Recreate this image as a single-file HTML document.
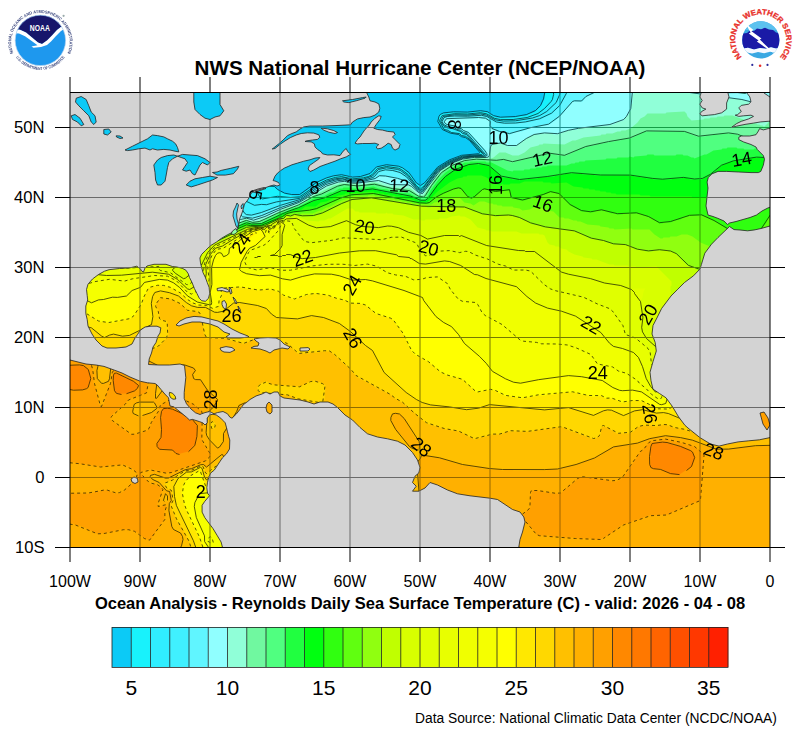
<!DOCTYPE html>
<html><head><meta charset="utf-8"><style>
html,body{margin:0;padding:0;background:#fff;}
body{width:800px;height:737px;position:relative;overflow:hidden;font-family:"Liberation Sans",sans-serif;}
.map{position:absolute;left:0;top:0;}
.title{position:absolute;left:0;width:840px;top:55.5px;text-align:center;font-weight:bold;font-size:20.6px;line-height:24px;white-space:nowrap;}
.sub{position:absolute;left:0;width:840px;top:593px;text-align:center;font-weight:bold;font-size:16.5px;line-height:20px;white-space:nowrap;}
.src{position:absolute;left:415px;top:710px;font-size:13.8px;line-height:18px;white-space:nowrap;}
.yl{position:absolute;left:0;width:44.5px;text-align:right;font-size:16.6px;line-height:18px;}
.xl{position:absolute;top:573px;width:80px;text-align:center;font-size:16px;line-height:18px;}
.cl{position:absolute;top:676.5px;width:60px;text-align:center;font-size:21px;line-height:22px;}
svg text{font-family:"Liberation Sans",sans-serif;}
</style></head><body>
<svg class="map" width="800" height="737" viewBox="0 0 800 737"><defs><clipPath id="mc"><rect x="70" y="92" width="700" height="455"/></clipPath></defs><g clip-path="url(#mc)"><rect x="70" y="92" width="700" height="455" fill="#0ccaf6"/>
<path fill-rule="evenodd" fill="#18f2fc" d="M779.5,82.5L544.5,82.5L544.5,85.5L545.5,86.5L545.5,93.5L544.5,94.5L544.5,98.5L541.5,105.5L535.5,111.5L531.5,113.5L529.5,113.5L526.5,115.5L516.5,116.5L515.5,117.5L496.5,117.5L485.5,111.5L474.5,111.5L473.5,112.5L448.5,112.5L447.5,113.5L442.5,113.5L440.5,114.5L438.5,118.5L438.5,122.5L442.5,127.5L442.5,129.5L447.5,130.5L449.5,132.5L451.5,132.5L452.5,133.5L458.5,133.5L461.5,136.5L464.5,136.5L466.5,138.5L469.5,139.5L480.5,152.5L478.5,154.5L461.5,155.5L455.5,158.5L448.5,160.5L446.5,162.5L437.5,167.5L428.5,177.5L426.5,181.5L420.5,186.5L414.5,181.5L410.5,174.5L403.5,168.5L399.5,166.5L382.5,165.5L381.5,166.5L376.5,167.5L371.5,173.5L364.5,176.5L360.5,176.5L359.5,177.5L350.5,177.5L345.5,175.5L335.5,175.5L334.5,176.5L331.5,176.5L330.5,177.5L325.5,178.5L322.5,180.5L320.5,180.5L316.5,182.5L312.5,186.5L299.5,195.5L291.5,195.5L290.5,194.5L286.5,194.5L279.5,191.5L273.5,186.5L262.5,186.5L259.5,183.5L256.5,176.5L253.5,173.5L243.5,171.5L229.5,164.5L223.5,156.5L222.5,153.5L220.5,151.5L211.5,135.5L196.5,135.5L187.5,123.5L184.5,125.5L178.5,133.5L177.5,136.5L169.5,147.5L168.5,150.5L162.5,158.5L160.5,163.5L150.5,178.5L146.5,176.5L141.5,175.5L138.5,173.5L133.5,172.5L109.5,159.5L107.5,159.5L100.5,155.5L98.5,155.5L89.5,150.5L87.5,150.5L78.5,145.5L76.5,145.5L60.5,137.5L60.5,556.5L779.5,556.5Z"/>
<path fill-rule="evenodd" fill="#30eeff" d="M779.5,82.5L555.5,82.5L555.5,85.5L553.5,87.5L554.5,94.5L553.5,95.5L552.5,100.5L544.5,109.5L537.5,114.5L533.5,115.5L530.5,117.5L521.5,118.5L520.5,119.5L513.5,119.5L512.5,120.5L500.5,120.5L499.5,119.5L495.5,119.5L489.5,115.5L484.5,113.5L473.5,113.5L472.5,114.5L446.5,114.5L445.5,115.5L442.5,115.5L440.5,118.5L440.5,122.5L443.5,126.5L444.5,129.5L447.5,129.5L451.5,132.5L458.5,132.5L460.5,133.5L461.5,135.5L465.5,135.5L469.5,138.5L482.5,152.5L482.5,154.5L481.5,155.5L468.5,155.5L467.5,156.5L461.5,156.5L455.5,159.5L450.5,160.5L448.5,162.5L437.5,168.5L421.5,189.5L419.5,189.5L414.5,184.5L409.5,176.5L402.5,170.5L398.5,168.5L394.5,168.5L393.5,167.5L381.5,167.5L380.5,168.5L377.5,168.5L370.5,176.5L368.5,176.5L364.5,178.5L350.5,179.5L346.5,177.5L335.5,177.5L334.5,178.5L331.5,178.5L330.5,179.5L325.5,180.5L317.5,184.5L300.5,197.5L292.5,197.5L290.5,198.5L289.5,197.5L280.5,197.5L279.5,196.5L276.5,196.5L275.5,197.5L261.5,199.5L255.5,191.5L251.5,190.5L245.5,187.5L243.5,185.5L236.5,182.5L231.5,177.5L228.5,171.5L226.5,169.5L224.5,164.5L222.5,162.5L220.5,157.5L215.5,150.5L213.5,145.5L211.5,143.5L195.5,143.5L193.5,144.5L190.5,142.5L186.5,135.5L183.5,132.5L181.5,132.5L175.5,139.5L169.5,148.5L168.5,151.5L162.5,159.5L155.5,172.5L150.5,178.5L148.5,178.5L145.5,176.5L132.5,172.5L108.5,159.5L106.5,159.5L77.5,145.5L75.5,145.5L60.5,137.5L60.5,556.5L779.5,556.5Z"/>
<path fill-rule="evenodd" fill="#40f0ff" d="M779.5,82.5L557.5,82.5L557.5,84.5L560.5,87.5L560.5,94.5L558.5,97.5L557.5,101.5L546.5,112.5L543.5,113.5L539.5,116.5L537.5,116.5L530.5,119.5L518.5,120.5L517.5,121.5L498.5,121.5L497.5,120.5L494.5,120.5L490.5,117.5L483.5,114.5L474.5,114.5L473.5,115.5L447.5,115.5L446.5,116.5L443.5,116.5L441.5,119.5L441.5,122.5L443.5,125.5L447.5,127.5L454.5,128.5L456.5,130.5L459.5,130.5L461.5,132.5L465.5,133.5L475.5,143.5L475.5,144.5L484.5,153.5L484.5,154.5L483.5,155.5L475.5,155.5L474.5,156.5L465.5,156.5L464.5,157.5L461.5,157.5L448.5,162.5L443.5,166.5L440.5,167.5L433.5,174.5L426.5,185.5L421.5,190.5L419.5,190.5L413.5,184.5L410.5,179.5L401.5,171.5L397.5,169.5L392.5,169.5L391.5,168.5L382.5,168.5L381.5,169.5L378.5,169.5L371.5,177.5L369.5,177.5L365.5,179.5L361.5,179.5L360.5,180.5L350.5,180.5L346.5,178.5L336.5,178.5L335.5,179.5L332.5,179.5L320.5,184.5L308.5,192.5L305.5,195.5L298.5,199.5L287.5,200.5L286.5,201.5L279.5,201.5L278.5,202.5L270.5,203.5L266.5,205.5L263.5,205.5L262.5,204.5L260.5,204.5L259.5,205.5L252.5,205.5L241.5,199.5L234.5,190.5L229.5,180.5L227.5,178.5L226.5,175.5L224.5,173.5L222.5,168.5L220.5,166.5L218.5,161.5L216.5,159.5L211.5,150.5L209.5,151.5L196.5,151.5L195.5,152.5L188.5,152.5L185.5,150.5L179.5,141.5L176.5,141.5L167.5,152.5L166.5,155.5L163.5,158.5L161.5,163.5L157.5,168.5L151.5,178.5L148.5,178.5L145.5,176.5L132.5,172.5L108.5,159.5L106.5,159.5L77.5,145.5L75.5,145.5L68.5,141.5L66.5,141.5L62.5,138.5L60.5,138.5L60.5,556.5L779.5,556.5Z"/>
<path fill-rule="evenodd" fill="#60f5ff" d="M779.5,82.5L568.5,82.5L567.5,92.5L560.5,105.5L552.5,113.5L540.5,119.5L537.5,119.5L532.5,121.5L528.5,121.5L527.5,122.5L519.5,122.5L518.5,123.5L499.5,123.5L498.5,122.5L495.5,122.5L488.5,117.5L483.5,116.5L482.5,115.5L476.5,115.5L475.5,116.5L447.5,116.5L446.5,117.5L444.5,117.5L442.5,120.5L442.5,122.5L445.5,125.5L447.5,126.5L453.5,126.5L457.5,129.5L460.5,129.5L462.5,131.5L466.5,132.5L486.5,154.5L484.5,156.5L471.5,156.5L470.5,157.5L463.5,157.5L448.5,163.5L446.5,165.5L440.5,168.5L435.5,173.5L422.5,191.5L419.5,191.5L411.5,183.5L411.5,182.5L401.5,173.5L397.5,171.5L393.5,171.5L392.5,170.5L381.5,170.5L372.5,178.5L370.5,178.5L366.5,180.5L362.5,180.5L361.5,181.5L350.5,181.5L346.5,179.5L337.5,179.5L336.5,180.5L333.5,180.5L332.5,181.5L327.5,182.5L319.5,186.5L303.5,198.5L299.5,200.5L297.5,200.5L290.5,203.5L283.5,204.5L282.5,205.5L277.5,206.5L274.5,208.5L272.5,208.5L269.5,210.5L267.5,210.5L257.5,214.5L254.5,214.5L253.5,215.5L246.5,215.5L242.5,211.5L234.5,196.5L229.5,189.5L227.5,184.5L225.5,182.5L223.5,177.5L218.5,170.5L216.5,165.5L211.5,158.5L209.5,159.5L202.5,159.5L201.5,160.5L183.5,160.5L179.5,156.5L175.5,150.5L170.5,150.5L160.5,164.5L159.5,167.5L153.5,176.5L150.5,179.5L144.5,176.5L139.5,175.5L136.5,173.5L131.5,172.5L107.5,159.5L105.5,159.5L98.5,155.5L96.5,155.5L87.5,150.5L85.5,150.5L76.5,145.5L74.5,145.5L60.5,138.5L60.5,556.5L779.5,556.5Z"/>
<path fill-rule="evenodd" fill="#90ffff" d="M779.5,82.5L588.5,82.5L589.5,84.5L594.5,84.5L595.5,85.5L597.5,85.5L598.5,86.5L597.5,89.5L592.5,94.5L586.5,96.5L582.5,101.5L573.5,101.5L571.5,102.5L571.5,103.5L564.5,110.5L564.5,111.5L556.5,119.5L549.5,124.5L547.5,124.5L546.5,125.5L541.5,125.5L540.5,126.5L536.5,126.5L535.5,127.5L531.5,127.5L521.5,131.5L517.5,131.5L509.5,134.5L504.5,133.5L503.5,132.5L500.5,132.5L492.5,129.5L489.5,126.5L489.5,120.5L485.5,118.5L481.5,118.5L480.5,117.5L478.5,117.5L477.5,118.5L447.5,118.5L445.5,119.5L444.5,121.5L445.5,123.5L450.5,124.5L451.5,125.5L455.5,125.5L457.5,127.5L462.5,128.5L463.5,130.5L468.5,131.5L486.5,151.5L487.5,155.5L485.5,157.5L468.5,157.5L467.5,158.5L462.5,158.5L456.5,161.5L451.5,162.5L449.5,164.5L440.5,169.5L436.5,173.5L429.5,184.5L422.5,192.5L419.5,192.5L416.5,190.5L414.5,187.5L407.5,181.5L405.5,181.5L401.5,179.5L398.5,179.5L397.5,178.5L388.5,177.5L387.5,176.5L378.5,176.5L374.5,179.5L368.5,180.5L367.5,181.5L363.5,181.5L362.5,182.5L350.5,182.5L346.5,180.5L339.5,180.5L338.5,181.5L334.5,181.5L333.5,182.5L328.5,183.5L322.5,186.5L298.5,202.5L278.5,208.5L269.5,213.5L267.5,213.5L264.5,215.5L262.5,215.5L258.5,217.5L255.5,217.5L254.5,218.5L242.5,217.5L240.5,215.5L212.5,166.5L210.5,166.5L206.5,168.5L178.5,168.5L174.5,164.5L171.5,159.5L165.5,159.5L160.5,165.5L159.5,168.5L156.5,171.5L153.5,177.5L151.5,179.5L149.5,179.5L146.5,177.5L133.5,173.5L109.5,160.5L107.5,160.5L100.5,156.5L98.5,156.5L89.5,151.5L87.5,151.5L78.5,146.5L76.5,146.5L60.5,138.5L60.5,556.5L779.5,556.5Z"/>
<path fill-rule="evenodd" fill="#90ffd8" d="M779.5,110.5L770.5,110.5L768.5,108.5L767.5,105.5L761.5,105.5L760.5,104.5L757.5,104.5L753.5,102.5L750.5,102.5L749.5,101.5L746.5,101.5L741.5,99.5L728.5,98.5L727.5,97.5L720.5,97.5L719.5,96.5L712.5,96.5L711.5,95.5L704.5,95.5L703.5,94.5L696.5,94.5L695.5,93.5L690.5,93.5L687.5,91.5L688.5,90.5L699.5,90.5L700.5,91.5L708.5,91.5L709.5,90.5L712.5,90.5L713.5,91.5L726.5,91.5L727.5,92.5L740.5,92.5L741.5,93.5L745.5,93.5L746.5,92.5L746.5,90.5L745.5,89.5L745.5,83.5L744.5,82.5L645.5,82.5L645.5,85.5L644.5,86.5L643.5,86.5L640.5,82.5L634.5,82.5L633.5,84.5L633.5,94.5L632.5,95.5L632.5,103.5L631.5,104.5L631.5,108.5L628.5,114.5L623.5,120.5L616.5,122.5L613.5,124.5L610.5,124.5L609.5,125.5L578.5,128.5L577.5,129.5L568.5,130.5L557.5,134.5L553.5,134.5L552.5,133.5L540.5,133.5L539.5,134.5L534.5,134.5L526.5,138.5L515.5,146.5L508.5,146.5L502.5,143.5L492.5,144.5L490.5,147.5L490.5,151.5L489.5,152.5L489.5,156.5L488.5,157.5L486.5,157.5L485.5,158.5L484.5,157.5L473.5,157.5L472.5,158.5L465.5,158.5L464.5,159.5L461.5,159.5L458.5,161.5L451.5,163.5L449.5,165.5L440.5,170.5L422.5,194.5L418.5,193.5L409.5,185.5L391.5,185.5L390.5,184.5L384.5,183.5L378.5,180.5L376.5,181.5L369.5,181.5L364.5,183.5L350.5,183.5L349.5,182.5L342.5,181.5L341.5,182.5L336.5,182.5L335.5,183.5L330.5,184.5L315.5,192.5L298.5,203.5L285.5,207.5L269.5,215.5L267.5,215.5L264.5,217.5L262.5,217.5L255.5,220.5L250.5,220.5L247.5,218.5L244.5,218.5L240.5,220.5L236.5,216.5L234.5,211.5L232.5,209.5L230.5,204.5L228.5,202.5L226.5,197.5L224.5,195.5L223.5,192.5L221.5,190.5L219.5,185.5L217.5,183.5L215.5,178.5L212.5,174.5L210.5,174.5L207.5,176.5L181.5,176.5L180.5,177.5L174.5,177.5L170.5,173.5L168.5,169.5L166.5,168.5L160.5,168.5L154.5,175.5L153.5,178.5L152.5,179.5L149.5,179.5L146.5,177.5L133.5,173.5L109.5,160.5L107.5,160.5L100.5,156.5L98.5,156.5L89.5,151.5L87.5,151.5L78.5,146.5L76.5,146.5L60.5,138.5L60.5,556.5L779.5,556.5ZM679.5,90.5L680.5,89.5L684.5,89.5L687.5,91.5L686.5,92.5L682.5,92.5Z"/>
<path fill-rule="evenodd" fill="#70f8a0" d="M779.5,116.5L773.5,116.5L769.5,119.5L768.5,122.5L764.5,126.5L763.5,126.5L762.5,125.5L760.5,125.5L759.5,124.5L757.5,124.5L756.5,123.5L754.5,123.5L732.5,115.5L724.5,115.5L723.5,116.5L717.5,116.5L716.5,117.5L710.5,117.5L709.5,118.5L704.5,118.5L703.5,119.5L691.5,120.5L687.5,116.5L686.5,113.5L684.5,111.5L666.5,112.5L665.5,113.5L647.5,113.5L644.5,116.5L640.5,118.5L637.5,122.5L630.5,128.5L625.5,130.5L621.5,130.5L620.5,131.5L617.5,131.5L612.5,133.5L606.5,133.5L605.5,134.5L601.5,134.5L600.5,135.5L583.5,137.5L575.5,140.5L572.5,140.5L564.5,144.5L543.5,143.5L542.5,144.5L539.5,144.5L538.5,145.5L530.5,147.5L524.5,152.5L518.5,155.5L512.5,155.5L505.5,152.5L499.5,152.5L493.5,157.5L488.5,159.5L486.5,159.5L485.5,158.5L472.5,158.5L471.5,159.5L464.5,159.5L463.5,160.5L458.5,161.5L455.5,163.5L451.5,164.5L442.5,170.5L436.5,176.5L423.5,195.5L419.5,195.5L417.5,194.5L410.5,188.5L390.5,187.5L389.5,186.5L386.5,186.5L375.5,182.5L371.5,182.5L366.5,184.5L349.5,184.5L348.5,183.5L339.5,183.5L338.5,184.5L333.5,185.5L309.5,197.5L304.5,201.5L296.5,205.5L283.5,209.5L263.5,219.5L261.5,219.5L257.5,221.5L250.5,221.5L245.5,219.5L239.5,222.5L236.5,222.5L232.5,215.5L230.5,213.5L228.5,208.5L226.5,206.5L224.5,201.5L219.5,194.5L217.5,189.5L211.5,181.5L207.5,184.5L181.5,184.5L180.5,185.5L169.5,185.5L162.5,177.5L157.5,177.5L156.5,176.5L152.5,180.5L145.5,177.5L140.5,176.5L137.5,174.5L132.5,173.5L108.5,160.5L106.5,160.5L77.5,146.5L75.5,146.5L60.5,138.5L60.5,556.5L779.5,556.5Z"/>
<path fill-rule="evenodd" fill="#50ff80" d="M779.5,139.5L776.5,139.5L774.5,137.5L774.5,135.5L773.5,134.5L769.5,137.5L761.5,137.5L757.5,139.5L749.5,140.5L740.5,135.5L734.5,134.5L733.5,133.5L720.5,133.5L719.5,134.5L713.5,134.5L712.5,135.5L706.5,135.5L705.5,136.5L696.5,136.5L684.5,131.5L644.5,131.5L630.5,138.5L621.5,139.5L620.5,140.5L615.5,140.5L614.5,141.5L609.5,141.5L608.5,142.5L604.5,142.5L603.5,143.5L599.5,143.5L594.5,145.5L586.5,146.5L585.5,147.5L580.5,148.5L566.5,155.5L557.5,155.5L552.5,153.5L548.5,153.5L547.5,154.5L544.5,154.5L543.5,155.5L540.5,155.5L535.5,157.5L531.5,157.5L530.5,158.5L526.5,158.5L525.5,159.5L522.5,159.5L521.5,160.5L514.5,161.5L513.5,162.5L510.5,162.5L504.5,159.5L501.5,159.5L500.5,160.5L485.5,160.5L484.5,159.5L472.5,159.5L471.5,160.5L465.5,160.5L464.5,161.5L459.5,162.5L456.5,164.5L454.5,164.5L444.5,170.5L434.5,181.5L424.5,197.5L419.5,197.5L411.5,191.5L409.5,191.5L408.5,190.5L398.5,190.5L397.5,189.5L392.5,189.5L391.5,188.5L388.5,188.5L387.5,187.5L384.5,187.5L383.5,186.5L380.5,186.5L375.5,184.5L369.5,184.5L364.5,186.5L352.5,186.5L347.5,184.5L339.5,185.5L326.5,192.5L324.5,192.5L319.5,195.5L311.5,197.5L306.5,201.5L294.5,207.5L292.5,207.5L281.5,212.5L279.5,212.5L259.5,222.5L250.5,222.5L246.5,220.5L238.5,224.5L234.5,225.5L231.5,222.5L222.5,205.5L220.5,203.5L219.5,200.5L217.5,198.5L215.5,193.5L212.5,189.5L207.5,192.5L164.5,193.5L158.5,186.5L152.5,186.5L150.5,184.5L150.5,180.5L145.5,177.5L140.5,176.5L137.5,174.5L132.5,173.5L108.5,160.5L106.5,160.5L77.5,146.5L75.5,146.5L68.5,142.5L66.5,142.5L60.5,138.5L60.5,556.5L779.5,556.5Z"/>
<path fill-rule="evenodd" fill="#20ff40" d="M60.5,139.5L60.5,556.5L779.5,556.5L779.5,140.5L777.5,140.5L776.5,141.5L776.5,145.5L774.5,147.5L760.5,147.5L759.5,148.5L754.5,148.5L753.5,149.5L744.5,149.5L743.5,148.5L737.5,148.5L736.5,147.5L727.5,147.5L726.5,148.5L722.5,148.5L721.5,149.5L713.5,150.5L706.5,154.5L704.5,154.5L694.5,158.5L693.5,157.5L691.5,157.5L687.5,155.5L683.5,155.5L682.5,154.5L676.5,154.5L675.5,155.5L654.5,155.5L653.5,154.5L647.5,154.5L646.5,155.5L634.5,156.5L633.5,157.5L629.5,156.5L628.5,157.5L617.5,157.5L616.5,158.5L606.5,158.5L605.5,159.5L585.5,160.5L584.5,161.5L579.5,161.5L578.5,162.5L575.5,162.5L574.5,163.5L571.5,163.5L566.5,165.5L547.5,165.5L546.5,166.5L542.5,166.5L541.5,167.5L536.5,167.5L535.5,168.5L530.5,168.5L529.5,169.5L524.5,169.5L523.5,170.5L513.5,170.5L512.5,171.5L507.5,170.5L491.5,162.5L486.5,162.5L485.5,161.5L470.5,161.5L469.5,162.5L464.5,162.5L461.5,164.5L454.5,166.5L445.5,172.5L438.5,179.5L430.5,190.5L427.5,196.5L424.5,199.5L420.5,199.5L409.5,193.5L397.5,192.5L396.5,191.5L392.5,191.5L387.5,189.5L378.5,188.5L373.5,186.5L365.5,187.5L364.5,188.5L350.5,188.5L349.5,187.5L343.5,187.5L342.5,188.5L339.5,188.5L332.5,192.5L330.5,192.5L323.5,196.5L313.5,198.5L297.5,207.5L295.5,207.5L284.5,212.5L282.5,212.5L260.5,223.5L250.5,223.5L249.5,222.5L244.5,222.5L234.5,227.5L230.5,227.5L224.5,216.5L222.5,214.5L220.5,209.5L218.5,207.5L216.5,202.5L212.5,197.5L208.5,200.5L188.5,200.5L187.5,201.5L165.5,201.5L164.5,202.5L160.5,202.5L154.5,195.5L148.5,195.5L144.5,193.5L147.5,187.5L147.5,185.5L150.5,181.5L149.5,179.5L142.5,177.5L139.5,175.5L134.5,174.5L110.5,161.5L108.5,161.5L79.5,147.5L77.5,147.5L70.5,143.5L68.5,143.5L62.5,139.5Z"/>
<path fill-rule="evenodd" fill="#00ff10" d="M60.5,139.5L60.5,556.5L779.5,556.5L779.5,158.5L752.5,157.5L751.5,158.5L746.5,158.5L745.5,159.5L731.5,161.5L721.5,165.5L712.5,173.5L701.5,179.5L690.5,179.5L685.5,177.5L682.5,177.5L681.5,178.5L672.5,178.5L671.5,179.5L653.5,179.5L652.5,178.5L646.5,178.5L645.5,177.5L640.5,177.5L639.5,176.5L634.5,176.5L633.5,175.5L594.5,175.5L593.5,174.5L582.5,174.5L581.5,173.5L565.5,173.5L564.5,174.5L560.5,174.5L559.5,175.5L555.5,175.5L554.5,176.5L538.5,177.5L537.5,178.5L528.5,178.5L527.5,179.5L521.5,179.5L519.5,180.5L518.5,179.5L512.5,179.5L511.5,178.5L502.5,177.5L488.5,165.5L485.5,165.5L484.5,164.5L469.5,164.5L468.5,165.5L465.5,165.5L459.5,168.5L457.5,168.5L445.5,176.5L436.5,186.5L430.5,194.5L429.5,197.5L426.5,200.5L418.5,200.5L411.5,196.5L402.5,195.5L401.5,194.5L397.5,194.5L396.5,193.5L392.5,193.5L391.5,192.5L386.5,192.5L385.5,191.5L381.5,191.5L380.5,190.5L376.5,190.5L375.5,189.5L366.5,189.5L365.5,190.5L344.5,190.5L343.5,191.5L339.5,191.5L325.5,198.5L318.5,199.5L317.5,200.5L314.5,200.5L311.5,202.5L309.5,202.5L298.5,208.5L285.5,212.5L266.5,222.5L264.5,222.5L260.5,224.5L250.5,224.5L249.5,223.5L245.5,223.5L235.5,228.5L228.5,230.5L226.5,228.5L225.5,225.5L223.5,223.5L218.5,213.5L212.5,204.5L208.5,208.5L194.5,208.5L193.5,209.5L165.5,209.5L164.5,210.5L155.5,210.5L152.5,206.5L149.5,204.5L143.5,204.5L142.5,203.5L140.5,203.5L139.5,202.5L139.5,200.5L147.5,184.5L149.5,182.5L149.5,180.5L144.5,177.5L139.5,176.5L136.5,174.5L131.5,173.5L107.5,160.5L105.5,160.5L98.5,156.5L96.5,156.5L87.5,151.5L85.5,151.5L76.5,146.5L74.5,146.5Z"/>
<path fill-rule="evenodd" fill="#30ff10" d="M60.5,139.5L60.5,556.5L779.5,556.5L779.5,181.5L778.5,181.5L770.5,195.5L766.5,199.5L760.5,199.5L750.5,193.5L746.5,193.5L745.5,194.5L741.5,194.5L739.5,195.5L731.5,206.5L727.5,206.5L714.5,199.5L709.5,199.5L706.5,197.5L692.5,197.5L691.5,196.5L650.5,196.5L649.5,195.5L640.5,195.5L639.5,194.5L616.5,194.5L615.5,193.5L611.5,193.5L610.5,192.5L606.5,192.5L605.5,191.5L600.5,191.5L599.5,190.5L595.5,190.5L594.5,189.5L589.5,189.5L588.5,188.5L583.5,188.5L582.5,187.5L573.5,186.5L566.5,182.5L551.5,183.5L550.5,182.5L543.5,182.5L542.5,181.5L524.5,181.5L519.5,183.5L510.5,183.5L509.5,184.5L503.5,184.5L502.5,183.5L501.5,184.5L497.5,184.5L496.5,183.5L494.5,183.5L486.5,177.5L481.5,175.5L467.5,175.5L466.5,176.5L463.5,176.5L462.5,177.5L457.5,178.5L449.5,182.5L437.5,191.5L431.5,197.5L431.5,198.5L426.5,202.5L419.5,202.5L409.5,198.5L405.5,198.5L404.5,197.5L400.5,197.5L399.5,196.5L395.5,196.5L394.5,195.5L390.5,195.5L389.5,194.5L384.5,194.5L383.5,193.5L379.5,193.5L378.5,192.5L374.5,192.5L373.5,191.5L345.5,193.5L344.5,194.5L338.5,195.5L326.5,201.5L320.5,202.5L315.5,206.5L305.5,206.5L301.5,209.5L290.5,211.5L264.5,224.5L262.5,224.5L261.5,225.5L250.5,225.5L249.5,224.5L245.5,224.5L226.5,233.5L223.5,230.5L216.5,217.5L212.5,212.5L208.5,216.5L200.5,216.5L199.5,217.5L166.5,217.5L165.5,218.5L150.5,218.5L147.5,214.5L145.5,213.5L138.5,213.5L137.5,212.5L134.5,212.5L133.5,210.5L141.5,194.5L143.5,192.5L146.5,185.5L149.5,181.5L148.5,179.5L141.5,177.5L138.5,175.5L133.5,174.5L109.5,161.5L107.5,161.5L100.5,157.5L98.5,157.5L89.5,152.5L87.5,152.5L78.5,147.5L76.5,147.5Z"/>
<path fill-rule="evenodd" fill="#60ff10" d="M60.5,139.5L60.5,556.5L779.5,556.5L779.5,201.5L767.5,219.5L766.5,222.5L759.5,231.5L756.5,232.5L752.5,235.5L739.5,235.5L736.5,233.5L732.5,232.5L715.5,221.5L702.5,215.5L689.5,215.5L688.5,216.5L683.5,217.5L680.5,219.5L674.5,220.5L670.5,222.5L663.5,222.5L662.5,223.5L659.5,223.5L650.5,217.5L648.5,217.5L645.5,215.5L643.5,215.5L639.5,213.5L623.5,213.5L622.5,214.5L616.5,214.5L615.5,213.5L611.5,213.5L603.5,210.5L597.5,210.5L592.5,212.5L581.5,211.5L570.5,205.5L558.5,193.5L556.5,193.5L555.5,192.5L549.5,192.5L539.5,196.5L532.5,197.5L524.5,200.5L520.5,200.5L515.5,198.5L511.5,198.5L510.5,197.5L509.5,190.5L491.5,191.5L486.5,189.5L482.5,189.5L475.5,196.5L472.5,198.5L469.5,198.5L460.5,188.5L455.5,188.5L437.5,196.5L428.5,203.5L418.5,203.5L417.5,202.5L414.5,202.5L409.5,200.5L399.5,199.5L398.5,198.5L394.5,198.5L393.5,197.5L389.5,197.5L388.5,196.5L384.5,196.5L383.5,195.5L379.5,195.5L378.5,194.5L373.5,194.5L372.5,193.5L370.5,193.5L369.5,194.5L354.5,194.5L353.5,195.5L345.5,196.5L334.5,201.5L332.5,201.5L325.5,205.5L323.5,205.5L316.5,209.5L287.5,213.5L282.5,217.5L279.5,217.5L266.5,224.5L264.5,224.5L263.5,225.5L252.5,225.5L251.5,226.5L249.5,225.5L245.5,225.5L243.5,227.5L239.5,228.5L236.5,230.5L234.5,230.5L225.5,235.5L222.5,235.5L213.5,220.5L211.5,220.5L208.5,224.5L206.5,224.5L205.5,225.5L166.5,225.5L165.5,226.5L150.5,226.5L149.5,227.5L145.5,226.5L141.5,222.5L133.5,222.5L132.5,221.5L129.5,221.5L128.5,220.5L128.5,218.5L140.5,195.5L148.5,182.5L148.5,180.5L143.5,177.5L130.5,173.5L106.5,160.5L104.5,160.5L75.5,146.5L73.5,146.5Z"/>
<path fill-rule="evenodd" fill="#90ff10" d="M60.5,139.5L60.5,556.5L779.5,556.5L779.5,222.5L778.5,222.5L776.5,225.5L775.5,228.5L773.5,230.5L772.5,233.5L768.5,238.5L765.5,244.5L757.5,251.5L753.5,253.5L722.5,253.5L714.5,249.5L712.5,247.5L700.5,242.5L692.5,236.5L687.5,234.5L681.5,234.5L676.5,236.5L670.5,236.5L669.5,237.5L663.5,237.5L662.5,238.5L660.5,238.5L654.5,234.5L649.5,229.5L632.5,229.5L631.5,228.5L614.5,229.5L613.5,228.5L609.5,228.5L608.5,227.5L600.5,226.5L599.5,225.5L587.5,224.5L580.5,221.5L577.5,221.5L576.5,220.5L573.5,220.5L568.5,218.5L564.5,218.5L563.5,217.5L559.5,217.5L553.5,211.5L546.5,210.5L539.5,207.5L533.5,207.5L529.5,209.5L522.5,210.5L519.5,208.5L513.5,207.5L512.5,206.5L502.5,206.5L501.5,205.5L497.5,205.5L496.5,204.5L493.5,204.5L492.5,203.5L489.5,203.5L484.5,201.5L479.5,201.5L473.5,205.5L470.5,203.5L464.5,202.5L459.5,197.5L451.5,198.5L450.5,199.5L446.5,199.5L445.5,200.5L441.5,200.5L440.5,201.5L434.5,202.5L431.5,204.5L417.5,204.5L416.5,203.5L412.5,203.5L411.5,202.5L407.5,202.5L406.5,201.5L402.5,201.5L401.5,200.5L395.5,200.5L394.5,199.5L390.5,199.5L389.5,198.5L385.5,198.5L384.5,197.5L380.5,197.5L379.5,196.5L375.5,196.5L374.5,195.5L368.5,195.5L367.5,196.5L353.5,196.5L352.5,197.5L341.5,200.5L328.5,207.5L326.5,207.5L321.5,210.5L319.5,210.5L312.5,213.5L301.5,213.5L300.5,214.5L298.5,214.5L297.5,213.5L292.5,213.5L291.5,214.5L286.5,214.5L282.5,218.5L278.5,218.5L276.5,220.5L265.5,225.5L263.5,225.5L262.5,226.5L246.5,226.5L239.5,230.5L237.5,230.5L232.5,233.5L230.5,233.5L228.5,235.5L221.5,238.5L217.5,235.5L215.5,230.5L213.5,228.5L211.5,228.5L210.5,230.5L206.5,233.5L168.5,233.5L167.5,234.5L150.5,234.5L149.5,235.5L141.5,235.5L136.5,231.5L128.5,231.5L127.5,230.5L124.5,230.5L123.5,229.5L123.5,226.5L131.5,210.5L137.5,201.5L140.5,194.5L148.5,182.5L148.5,180.5L145.5,178.5L132.5,174.5L108.5,161.5L106.5,161.5L77.5,147.5L75.5,147.5Z"/>
<path fill-rule="evenodd" fill="#c0ff00" d="M60.5,139.5L60.5,556.5L779.5,556.5L779.5,242.5L767.5,260.5L766.5,263.5L763.5,266.5L756.5,270.5L699.5,270.5L687.5,265.5L679.5,257.5L679.5,256.5L678.5,256.5L674.5,252.5L672.5,252.5L671.5,251.5L668.5,251.5L667.5,250.5L653.5,250.5L652.5,251.5L645.5,251.5L644.5,250.5L635.5,249.5L628.5,245.5L625.5,245.5L624.5,244.5L612.5,244.5L611.5,243.5L606.5,242.5L603.5,240.5L598.5,240.5L597.5,239.5L589.5,238.5L578.5,232.5L576.5,232.5L572.5,230.5L558.5,229.5L557.5,228.5L551.5,228.5L550.5,227.5L543.5,227.5L539.5,225.5L532.5,224.5L525.5,220.5L523.5,220.5L521.5,218.5L519.5,218.5L515.5,216.5L512.5,216.5L511.5,215.5L499.5,215.5L498.5,216.5L494.5,216.5L493.5,215.5L481.5,214.5L478.5,212.5L473.5,211.5L466.5,207.5L459.5,207.5L458.5,206.5L456.5,207.5L439.5,207.5L438.5,206.5L431.5,206.5L430.5,207.5L427.5,207.5L426.5,206.5L411.5,205.5L410.5,204.5L406.5,204.5L405.5,203.5L401.5,203.5L400.5,202.5L387.5,201.5L386.5,200.5L382.5,200.5L381.5,199.5L377.5,199.5L376.5,198.5L363.5,198.5L362.5,199.5L352.5,199.5L351.5,200.5L349.5,200.5L325.5,212.5L323.5,212.5L320.5,214.5L317.5,214.5L313.5,216.5L299.5,216.5L294.5,214.5L291.5,216.5L286.5,215.5L284.5,218.5L282.5,219.5L280.5,218.5L264.5,226.5L246.5,227.5L244.5,229.5L240.5,231.5L238.5,231.5L235.5,233.5L233.5,233.5L220.5,240.5L217.5,240.5L214.5,236.5L212.5,235.5L209.5,239.5L206.5,241.5L174.5,241.5L173.5,242.5L150.5,242.5L149.5,243.5L136.5,243.5L132.5,240.5L118.5,239.5L117.5,238.5L117.5,236.5L126.5,218.5L128.5,216.5L131.5,209.5L136.5,202.5L139.5,195.5L141.5,193.5L148.5,180.5L142.5,177.5L132.5,174.5L110.5,162.5L108.5,162.5L79.5,148.5L77.5,148.5L68.5,143.5L66.5,143.5Z"/>
<path fill-rule="evenodd" fill="#d8ff00" d="M60.5,140.5L60.5,556.5L779.5,556.5L779.5,263.5L778.5,263.5L776.5,266.5L775.5,269.5L773.5,271.5L768.5,280.5L760.5,287.5L758.5,287.5L757.5,288.5L709.5,288.5L688.5,304.5L680.5,309.5L670.5,300.5L670.5,286.5L671.5,285.5L671.5,281.5L656.5,266.5L636.5,267.5L635.5,266.5L628.5,266.5L627.5,265.5L614.5,265.5L613.5,264.5L609.5,264.5L596.5,259.5L592.5,259.5L591.5,258.5L583.5,257.5L582.5,256.5L574.5,254.5L568.5,251.5L566.5,249.5L561.5,248.5L558.5,246.5L555.5,246.5L554.5,245.5L549.5,244.5L547.5,242.5L544.5,235.5L542.5,234.5L539.5,234.5L538.5,233.5L521.5,233.5L516.5,231.5L491.5,231.5L490.5,230.5L486.5,230.5L485.5,229.5L477.5,227.5L470.5,219.5L464.5,216.5L460.5,216.5L459.5,215.5L451.5,216.5L446.5,218.5L439.5,218.5L438.5,219.5L425.5,219.5L424.5,220.5L421.5,220.5L420.5,219.5L413.5,219.5L403.5,215.5L393.5,214.5L392.5,213.5L387.5,213.5L386.5,212.5L385.5,213.5L376.5,213.5L375.5,212.5L359.5,212.5L358.5,211.5L355.5,211.5L352.5,208.5L347.5,208.5L330.5,218.5L328.5,218.5L324.5,220.5L319.5,220.5L318.5,221.5L307.5,220.5L296.5,216.5L294.5,216.5L290.5,218.5L286.5,216.5L283.5,220.5L279.5,219.5L263.5,227.5L253.5,227.5L252.5,228.5L247.5,228.5L238.5,233.5L231.5,235.5L219.5,242.5L212.5,243.5L206.5,249.5L150.5,250.5L149.5,251.5L135.5,251.5L133.5,252.5L127.5,249.5L113.5,248.5L112.5,247.5L112.5,244.5L127.5,215.5L129.5,213.5L131.5,208.5L139.5,196.5L142.5,189.5L147.5,182.5L147.5,180.5L144.5,178.5L131.5,174.5L107.5,161.5L105.5,161.5L98.5,157.5L96.5,157.5L87.5,152.5L85.5,152.5L76.5,147.5L74.5,147.5L64.5,142.5L62.5,140.5Z"/>
<path fill-rule="evenodd" fill="#e0ff00" d="M60.5,140.5L60.5,556.5L779.5,556.5L779.5,283.5L777.5,285.5L776.5,288.5L772.5,293.5L769.5,299.5L761.5,305.5L715.5,305.5L699.5,317.5L695.5,319.5L664.5,343.5L658.5,347.5L656.5,347.5L645.5,338.5L641.5,331.5L642.5,314.5L641.5,313.5L641.5,308.5L640.5,307.5L640.5,301.5L642.5,297.5L643.5,291.5L645.5,288.5L633.5,288.5L632.5,289.5L628.5,289.5L620.5,285.5L614.5,285.5L613.5,284.5L602.5,283.5L601.5,282.5L596.5,281.5L593.5,279.5L590.5,279.5L585.5,277.5L581.5,277.5L580.5,276.5L576.5,276.5L575.5,275.5L566.5,274.5L565.5,273.5L560.5,272.5L557.5,270.5L550.5,263.5L543.5,259.5L535.5,252.5L533.5,252.5L531.5,248.5L524.5,251.5L519.5,251.5L518.5,250.5L514.5,250.5L513.5,249.5L509.5,249.5L508.5,248.5L500.5,248.5L499.5,247.5L487.5,246.5L486.5,245.5L481.5,244.5L478.5,242.5L476.5,242.5L464.5,236.5L461.5,236.5L457.5,232.5L447.5,236.5L440.5,236.5L439.5,237.5L434.5,237.5L433.5,238.5L429.5,238.5L427.5,239.5L420.5,235.5L414.5,234.5L413.5,233.5L409.5,233.5L404.5,231.5L400.5,228.5L393.5,227.5L392.5,226.5L385.5,226.5L384.5,227.5L380.5,227.5L379.5,228.5L376.5,228.5L375.5,227.5L362.5,227.5L361.5,226.5L355.5,225.5L348.5,221.5L344.5,221.5L341.5,223.5L336.5,224.5L330.5,227.5L315.5,228.5L305.5,224.5L296.5,218.5L294.5,218.5L293.5,219.5L285.5,219.5L283.5,221.5L278.5,220.5L273.5,223.5L271.5,226.5L256.5,227.5L251.5,229.5L247.5,229.5L239.5,234.5L232.5,236.5L214.5,245.5L208.5,251.5L203.5,261.5L203.5,263.5L199.5,267.5L183.5,279.5L172.5,271.5L172.5,268.5L179.5,263.5L184.5,258.5L151.5,258.5L150.5,259.5L135.5,259.5L134.5,260.5L127.5,260.5L122.5,258.5L114.5,258.5L113.5,257.5L107.5,257.5L106.5,256.5L106.5,253.5L112.5,241.5L114.5,239.5L114.5,237.5L116.5,235.5L118.5,230.5L123.5,223.5L124.5,219.5L132.5,207.5L134.5,202.5L139.5,195.5L147.5,180.5L143.5,178.5L138.5,177.5L135.5,175.5L130.5,174.5L106.5,161.5L104.5,161.5L75.5,147.5L73.5,147.5Z"/>
<path fill-rule="evenodd" fill="#e8ff00" d="M60.5,140.5L60.5,556.5L779.5,556.5L779.5,304.5L778.5,304.5L772.5,315.5L764.5,322.5L753.5,322.5L752.5,323.5L719.5,323.5L669.5,360.5L660.5,360.5L659.5,361.5L658.5,366.5L655.5,370.5L652.5,367.5L650.5,363.5L650.5,359.5L649.5,358.5L650.5,354.5L648.5,349.5L637.5,339.5L633.5,337.5L627.5,336.5L624.5,334.5L622.5,325.5L610.5,309.5L606.5,307.5L601.5,306.5L598.5,304.5L596.5,304.5L594.5,302.5L580.5,296.5L577.5,296.5L576.5,295.5L573.5,295.5L572.5,294.5L569.5,294.5L564.5,292.5L559.5,292.5L558.5,291.5L552.5,290.5L546.5,287.5L530.5,271.5L528.5,270.5L512.5,270.5L506.5,266.5L499.5,265.5L488.5,259.5L476.5,256.5L468.5,251.5L465.5,251.5L460.5,253.5L457.5,253.5L452.5,251.5L438.5,251.5L428.5,256.5L425.5,256.5L419.5,251.5L417.5,245.5L413.5,241.5L405.5,239.5L402.5,237.5L390.5,237.5L383.5,240.5L379.5,240.5L378.5,239.5L340.5,238.5L339.5,239.5L331.5,240.5L330.5,241.5L322.5,241.5L321.5,242.5L310.5,243.5L309.5,242.5L305.5,242.5L299.5,236.5L293.5,228.5L291.5,221.5L285.5,221.5L284.5,222.5L282.5,222.5L279.5,220.5L277.5,223.5L271.5,228.5L268.5,226.5L266.5,226.5L264.5,228.5L254.5,228.5L250.5,230.5L247.5,230.5L242.5,234.5L235.5,236.5L227.5,240.5L225.5,242.5L215.5,246.5L210.5,251.5L207.5,256.5L207.5,258.5L204.5,264.5L204.5,269.5L203.5,271.5L190.5,284.5L188.5,285.5L185.5,284.5L169.5,272.5L164.5,272.5L159.5,270.5L158.5,269.5L159.5,268.5L158.5,266.5L151.5,266.5L150.5,267.5L135.5,267.5L134.5,268.5L118.5,268.5L117.5,267.5L102.5,266.5L101.5,265.5L101.5,262.5L105.5,251.5L107.5,249.5L110.5,242.5L112.5,240.5L114.5,235.5L119.5,228.5L123.5,219.5L125.5,217.5L126.5,214.5L134.5,202.5L136.5,197.5L144.5,185.5L146.5,180.5L139.5,178.5L136.5,176.5L131.5,175.5L107.5,162.5L105.5,162.5L76.5,148.5L74.5,148.5Z"/>
<path fill-rule="evenodd" fill="#f0ff00" d="M60.5,141.5L60.5,556.5L779.5,556.5L779.5,324.5L777.5,326.5L772.5,335.5L769.5,338.5L765.5,340.5L725.5,340.5L721.5,342.5L683.5,371.5L679.5,373.5L675.5,373.5L674.5,372.5L663.5,372.5L661.5,375.5L661.5,378.5L660.5,379.5L658.5,389.5L657.5,391.5L655.5,392.5L648.5,384.5L644.5,376.5L643.5,370.5L640.5,364.5L639.5,359.5L633.5,352.5L628.5,351.5L625.5,349.5L614.5,347.5L606.5,340.5L600.5,332.5L579.5,318.5L571.5,314.5L569.5,314.5L562.5,311.5L559.5,311.5L558.5,310.5L549.5,309.5L536.5,304.5L529.5,299.5L515.5,286.5L508.5,285.5L507.5,284.5L504.5,284.5L499.5,282.5L496.5,282.5L492.5,280.5L486.5,279.5L478.5,275.5L474.5,275.5L471.5,272.5L466.5,270.5L460.5,265.5L458.5,265.5L455.5,263.5L453.5,263.5L449.5,261.5L440.5,261.5L439.5,262.5L434.5,262.5L433.5,263.5L429.5,263.5L428.5,264.5L419.5,264.5L414.5,260.5L410.5,259.5L408.5,257.5L408.5,255.5L404.5,252.5L394.5,255.5L393.5,254.5L389.5,254.5L388.5,253.5L383.5,253.5L379.5,251.5L354.5,251.5L353.5,252.5L344.5,252.5L343.5,253.5L330.5,254.5L329.5,255.5L320.5,256.5L315.5,258.5L304.5,258.5L303.5,259.5L300.5,259.5L294.5,256.5L289.5,255.5L282.5,247.5L281.5,245.5L281.5,232.5L284.5,225.5L280.5,221.5L279.5,221.5L278.5,223.5L271.5,229.5L268.5,227.5L266.5,227.5L264.5,230.5L262.5,228.5L256.5,228.5L250.5,231.5L248.5,231.5L238.5,237.5L236.5,237.5L234.5,239.5L231.5,240.5L226.5,244.5L220.5,247.5L216.5,247.5L210.5,254.5L209.5,258.5L205.5,265.5L206.5,267.5L206.5,277.5L200.5,283.5L189.5,290.5L187.5,289.5L177.5,279.5L169.5,274.5L163.5,274.5L162.5,273.5L150.5,272.5L149.5,273.5L126.5,274.5L125.5,275.5L97.5,275.5L95.5,273.5L95.5,271.5L101.5,260.5L101.5,256.5L96.5,249.5L96.5,247.5L95.5,246.5L95.5,243.5L94.5,242.5L93.5,236.5L91.5,232.5L91.5,229.5L88.5,222.5L88.5,219.5L86.5,215.5L86.5,212.5L85.5,211.5L84.5,205.5L82.5,201.5L82.5,198.5L79.5,191.5L79.5,188.5L77.5,184.5L77.5,181.5L75.5,177.5L75.5,174.5L74.5,173.5L73.5,167.5L70.5,160.5L70.5,157.5L68.5,153.5L67.5,147.5L63.5,142.5Z"/>
<path fill-rule="evenodd" fill="#f5ff00" d="M98.5,254.5L96.5,254.5L96.5,263.5L97.5,264.5L99.5,262.5L99.5,260.5L100.5,259.5ZM60.5,277.5L60.5,556.5L779.5,556.5L779.5,345.5L778.5,345.5L775.5,351.5L769.5,357.5L740.5,357.5L739.5,358.5L729.5,358.5L692.5,385.5L685.5,385.5L684.5,384.5L669.5,384.5L668.5,383.5L666.5,383.5L663.5,390.5L662.5,397.5L660.5,399.5L657.5,399.5L635.5,379.5L632.5,378.5L624.5,372.5L619.5,372.5L613.5,367.5L611.5,367.5L610.5,366.5L599.5,365.5L594.5,361.5L592.5,356.5L590.5,354.5L583.5,352.5L574.5,347.5L571.5,347.5L568.5,345.5L560.5,345.5L559.5,344.5L540.5,344.5L536.5,342.5L527.5,342.5L526.5,341.5L521.5,341.5L519.5,340.5L504.5,326.5L498.5,322.5L485.5,316.5L480.5,311.5L477.5,304.5L475.5,302.5L468.5,302.5L467.5,301.5L461.5,301.5L459.5,300.5L449.5,289.5L448.5,285.5L444.5,281.5L438.5,277.5L430.5,277.5L429.5,278.5L424.5,278.5L419.5,280.5L413.5,280.5L405.5,276.5L400.5,276.5L399.5,275.5L394.5,275.5L393.5,274.5L387.5,273.5L378.5,267.5L370.5,264.5L361.5,264.5L360.5,265.5L356.5,265.5L355.5,266.5L353.5,265.5L345.5,265.5L344.5,264.5L326.5,264.5L325.5,265.5L316.5,265.5L315.5,266.5L302.5,267.5L301.5,268.5L297.5,268.5L292.5,270.5L286.5,270.5L285.5,271.5L282.5,271.5L281.5,270.5L278.5,270.5L273.5,268.5L265.5,268.5L260.5,270.5L254.5,270.5L253.5,269.5L248.5,268.5L245.5,265.5L243.5,261.5L244.5,260.5L244.5,258.5L246.5,256.5L247.5,252.5L252.5,248.5L255.5,248.5L260.5,245.5L262.5,245.5L266.5,243.5L277.5,231.5L278.5,228.5L280.5,226.5L280.5,223.5L279.5,223.5L272.5,230.5L270.5,230.5L267.5,228.5L265.5,232.5L264.5,232.5L262.5,229.5L255.5,229.5L250.5,232.5L246.5,233.5L243.5,236.5L238.5,238.5L235.5,241.5L229.5,244.5L222.5,249.5L216.5,249.5L212.5,254.5L210.5,261.5L208.5,263.5L208.5,265.5L207.5,266.5L208.5,267.5L208.5,271.5L209.5,272.5L209.5,282.5L204.5,287.5L194.5,292.5L192.5,294.5L189.5,294.5L179.5,283.5L172.5,278.5L168.5,276.5L162.5,276.5L161.5,275.5L154.5,275.5L153.5,276.5L149.5,276.5L148.5,277.5L144.5,277.5L143.5,278.5L135.5,278.5L134.5,279.5L130.5,279.5L126.5,281.5L120.5,281.5L119.5,280.5L115.5,280.5L114.5,279.5L108.5,279.5L107.5,280.5L101.5,280.5L100.5,281.5L91.5,282.5L89.5,284.5L81.5,284.5L80.5,283.5L77.5,283.5L71.5,280.5ZM209.5,536.5L213.5,539.5L213.5,542.5L212.5,543.5L210.5,543.5L207.5,541.5L207.5,538.5Z"/>
<path fill-rule="evenodd" fill="#ffff00" d="M268.5,231.5L268.5,232.5L269.5,232.5L269.5,231.5ZM60.5,318.5L60.5,556.5L207.5,556.5L209.5,553.5L209.5,549.5L204.5,543.5L204.5,541.5L203.5,540.5L204.5,536.5L196.5,520.5L195.5,514.5L194.5,513.5L194.5,509.5L193.5,508.5L194.5,501.5L197.5,495.5L200.5,492.5L208.5,492.5L210.5,495.5L210.5,500.5L211.5,501.5L211.5,506.5L212.5,507.5L212.5,512.5L213.5,513.5L213.5,518.5L215.5,521.5L219.5,521.5L220.5,520.5L229.5,519.5L234.5,517.5L248.5,515.5L251.5,519.5L252.5,524.5L255.5,530.5L255.5,534.5L256.5,535.5L256.5,544.5L258.5,548.5L265.5,551.5L271.5,551.5L272.5,552.5L332.5,552.5L334.5,556.5L779.5,556.5L779.5,365.5L777.5,367.5L776.5,370.5L770.5,375.5L735.5,375.5L731.5,377.5L728.5,380.5L724.5,382.5L704.5,397.5L677.5,396.5L676.5,395.5L670.5,395.5L669.5,394.5L668.5,395.5L666.5,403.5L662.5,405.5L658.5,404.5L642.5,392.5L635.5,391.5L634.5,390.5L620.5,391.5L611.5,387.5L604.5,381.5L602.5,381.5L598.5,379.5L586.5,378.5L585.5,377.5L580.5,377.5L579.5,376.5L562.5,376.5L561.5,377.5L556.5,377.5L555.5,378.5L548.5,378.5L547.5,379.5L534.5,380.5L533.5,381.5L529.5,381.5L528.5,382.5L524.5,382.5L523.5,383.5L515.5,383.5L503.5,378.5L498.5,374.5L494.5,373.5L478.5,355.5L468.5,348.5L463.5,343.5L457.5,333.5L449.5,325.5L442.5,322.5L432.5,313.5L422.5,299.5L422.5,297.5L419.5,297.5L409.5,292.5L407.5,292.5L400.5,289.5L397.5,289.5L393.5,287.5L386.5,286.5L385.5,285.5L377.5,283.5L374.5,281.5L366.5,280.5L365.5,279.5L364.5,280.5L349.5,280.5L341.5,276.5L338.5,276.5L333.5,274.5L311.5,274.5L306.5,276.5L302.5,276.5L301.5,277.5L296.5,278.5L293.5,280.5L286.5,280.5L285.5,279.5L278.5,278.5L272.5,275.5L258.5,276.5L253.5,274.5L246.5,274.5L245.5,273.5L243.5,273.5L239.5,270.5L240.5,261.5L245.5,254.5L245.5,252.5L250.5,246.5L252.5,246.5L256.5,244.5L264.5,236.5L262.5,231.5L260.5,229.5L255.5,230.5L247.5,234.5L237.5,243.5L229.5,248.5L229.5,253.5L226.5,256.5L223.5,257.5L221.5,255.5L221.5,253.5L217.5,253.5L215.5,255.5L212.5,263.5L212.5,272.5L211.5,273.5L211.5,277.5L212.5,278.5L212.5,286.5L210.5,291.5L212.5,303.5L210.5,305.5L208.5,304.5L204.5,304.5L203.5,303.5L198.5,303.5L188.5,297.5L182.5,291.5L182.5,290.5L174.5,283.5L168.5,280.5L159.5,279.5L158.5,280.5L153.5,280.5L152.5,281.5L144.5,282.5L139.5,288.5L132.5,290.5L127.5,296.5L122.5,296.5L121.5,297.5L111.5,297.5L110.5,298.5L107.5,298.5L102.5,300.5L96.5,300.5L92.5,303.5L90.5,303.5L88.5,301.5L84.5,300.5L82.5,303.5L82.5,305.5L78.5,309.5Z"/>
<path fill-rule="evenodd" fill="#ffe800" d="M60.5,326.5L60.5,556.5L203.5,556.5L202.5,554.5L203.5,553.5L203.5,548.5L202.5,547.5L201.5,542.5L187.5,514.5L187.5,512.5L185.5,509.5L185.5,507.5L183.5,503.5L183.5,499.5L182.5,498.5L182.5,494.5L181.5,493.5L182.5,486.5L184.5,481.5L191.5,474.5L197.5,470.5L199.5,470.5L201.5,472.5L205.5,485.5L207.5,485.5L211.5,482.5L213.5,484.5L214.5,493.5L215.5,494.5L215.5,499.5L216.5,500.5L216.5,504.5L217.5,505.5L222.5,505.5L223.5,504.5L227.5,504.5L228.5,503.5L232.5,503.5L233.5,502.5L247.5,500.5L252.5,498.5L256.5,498.5L257.5,497.5L261.5,497.5L262.5,496.5L266.5,496.5L267.5,495.5L271.5,495.5L272.5,494.5L286.5,492.5L289.5,496.5L290.5,501.5L292.5,504.5L292.5,506.5L294.5,509.5L294.5,511.5L296.5,515.5L297.5,534.5L301.5,542.5L318.5,549.5L322.5,549.5L323.5,550.5L332.5,550.5L334.5,552.5L334.5,556.5L779.5,556.5L779.5,386.5L778.5,386.5L776.5,390.5L773.5,392.5L746.5,392.5L745.5,393.5L738.5,393.5L717.5,409.5L686.5,408.5L685.5,407.5L675.5,407.5L674.5,406.5L671.5,406.5L669.5,409.5L658.5,409.5L643.5,401.5L640.5,401.5L639.5,400.5L632.5,400.5L631.5,401.5L627.5,401.5L626.5,402.5L620.5,402.5L615.5,399.5L613.5,399.5L612.5,398.5L605.5,398.5L600.5,395.5L598.5,396.5L589.5,396.5L588.5,395.5L580.5,394.5L576.5,392.5L562.5,392.5L561.5,393.5L554.5,393.5L553.5,394.5L546.5,394.5L545.5,395.5L535.5,395.5L534.5,396.5L530.5,396.5L529.5,397.5L525.5,397.5L524.5,398.5L518.5,398.5L517.5,397.5L513.5,397.5L512.5,396.5L506.5,396.5L499.5,393.5L495.5,390.5L492.5,390.5L491.5,389.5L481.5,391.5L480.5,392.5L476.5,392.5L462.5,379.5L457.5,377.5L452.5,377.5L440.5,372.5L429.5,362.5L414.5,354.5L411.5,351.5L402.5,332.5L391.5,318.5L376.5,314.5L367.5,306.5L363.5,304.5L361.5,304.5L360.5,303.5L349.5,303.5L345.5,300.5L337.5,299.5L334.5,297.5L332.5,297.5L328.5,295.5L325.5,295.5L324.5,294.5L317.5,294.5L316.5,293.5L313.5,293.5L312.5,294.5L307.5,294.5L306.5,295.5L301.5,296.5L296.5,299.5L292.5,299.5L289.5,297.5L284.5,296.5L278.5,291.5L276.5,291.5L272.5,289.5L255.5,290.5L254.5,289.5L246.5,288.5L245.5,287.5L229.5,287.5L228.5,288.5L222.5,288.5L221.5,289.5L221.5,297.5L219.5,300.5L219.5,305.5L216.5,308.5L210.5,308.5L206.5,305.5L197.5,305.5L190.5,302.5L179.5,292.5L170.5,287.5L164.5,286.5L163.5,285.5L157.5,285.5L156.5,286.5L153.5,286.5L148.5,288.5L143.5,298.5L142.5,303.5L136.5,311.5L135.5,314.5L129.5,319.5L123.5,319.5L122.5,320.5L119.5,320.5L118.5,321.5L108.5,323.5L107.5,322.5L98.5,321.5L82.5,311.5L79.5,315.5L75.5,329.5L73.5,332.5ZM256.5,232.5L249.5,235.5L243.5,241.5L243.5,243.5Z"/>
<path fill-rule="evenodd" fill="#ffd800" d="M60.5,327.5L60.5,556.5L196.5,556.5L195.5,547.5L194.5,546.5L193.5,541.5L175.5,505.5L175.5,501.5L173.5,496.5L173.5,484.5L175.5,482.5L176.5,479.5L181.5,474.5L186.5,471.5L191.5,471.5L200.5,466.5L203.5,470.5L203.5,473.5L206.5,479.5L213.5,473.5L215.5,473.5L216.5,474.5L219.5,489.5L225.5,489.5L226.5,488.5L230.5,488.5L231.5,487.5L235.5,487.5L236.5,486.5L240.5,486.5L241.5,485.5L245.5,485.5L246.5,484.5L250.5,484.5L251.5,483.5L265.5,481.5L270.5,479.5L274.5,479.5L275.5,478.5L279.5,478.5L280.5,477.5L284.5,477.5L285.5,476.5L289.5,476.5L290.5,475.5L294.5,475.5L295.5,474.5L299.5,474.5L300.5,473.5L304.5,473.5L305.5,472.5L309.5,472.5L310.5,471.5L324.5,469.5L326.5,471.5L326.5,473.5L328.5,476.5L328.5,478.5L330.5,481.5L330.5,483.5L336.5,496.5L338.5,525.5L343.5,534.5L348.5,538.5L350.5,538.5L363.5,544.5L368.5,545.5L371.5,547.5L378.5,548.5L379.5,549.5L378.5,550.5L370.5,550.5L369.5,551.5L346.5,551.5L345.5,552.5L336.5,552.5L335.5,553.5L335.5,556.5L779.5,556.5L779.5,406.5L774.5,410.5L744.5,410.5L729.5,421.5L713.5,421.5L712.5,420.5L680.5,419.5L679.5,418.5L677.5,418.5L673.5,415.5L671.5,415.5L667.5,413.5L654.5,413.5L647.5,410.5L636.5,410.5L623.5,416.5L611.5,410.5L604.5,410.5L595.5,415.5L590.5,415.5L589.5,414.5L586.5,414.5L585.5,413.5L580.5,412.5L572.5,408.5L558.5,408.5L557.5,409.5L550.5,409.5L549.5,410.5L538.5,410.5L537.5,409.5L526.5,409.5L525.5,408.5L506.5,407.5L505.5,406.5L497.5,406.5L496.5,405.5L485.5,405.5L476.5,409.5L464.5,410.5L459.5,408.5L447.5,407.5L446.5,406.5L435.5,406.5L434.5,405.5L428.5,405.5L427.5,404.5L422.5,403.5L410.5,396.5L402.5,389.5L401.5,389.5L392.5,380.5L391.5,380.5L382.5,371.5L371.5,349.5L368.5,348.5L364.5,345.5L346.5,328.5L336.5,322.5L334.5,322.5L331.5,320.5L329.5,320.5L322.5,317.5L318.5,317.5L317.5,316.5L307.5,316.5L299.5,319.5L279.5,318.5L272.5,315.5L268.5,311.5L268.5,310.5L265.5,308.5L263.5,308.5L257.5,305.5L252.5,305.5L251.5,304.5L246.5,304.5L245.5,303.5L240.5,303.5L239.5,302.5L235.5,302.5L233.5,303.5L222.5,312.5L213.5,312.5L205.5,307.5L194.5,307.5L193.5,306.5L191.5,306.5L186.5,303.5L180.5,297.5L174.5,294.5L172.5,294.5L168.5,292.5L164.5,292.5L163.5,291.5L157.5,291.5L153.5,294.5L152.5,300.5L151.5,301.5L152.5,313.5L153.5,314.5L152.5,323.5L150.5,325.5L137.5,331.5L131.5,335.5L129.5,335.5L128.5,336.5L119.5,336.5L115.5,334.5L111.5,334.5L110.5,335.5L108.5,335.5L104.5,338.5L90.5,327.5L86.5,327.5L81.5,323.5L79.5,323.5L77.5,325.5L76.5,330.5L74.5,333.5L70.5,332.5Z"/>
<path fill-rule="evenodd" fill="#ffc000" d="M60.5,327.5L60.5,556.5L190.5,556.5L191.5,555.5L191.5,551.5L190.5,550.5L189.5,542.5L183.5,530.5L176.5,520.5L170.5,506.5L170.5,503.5L172.5,501.5L171.5,491.5L170.5,489.5L167.5,489.5L165.5,487.5L164.5,483.5L166.5,481.5L171.5,480.5L177.5,474.5L186.5,469.5L190.5,470.5L199.5,465.5L202.5,465.5L204.5,467.5L205.5,472.5L207.5,472.5L213.5,466.5L218.5,463.5L220.5,465.5L221.5,472.5L224.5,474.5L225.5,473.5L234.5,472.5L239.5,470.5L243.5,470.5L244.5,469.5L248.5,469.5L249.5,468.5L253.5,468.5L254.5,467.5L258.5,467.5L259.5,466.5L263.5,466.5L264.5,465.5L268.5,465.5L269.5,464.5L283.5,462.5L288.5,460.5L292.5,460.5L293.5,459.5L297.5,459.5L298.5,458.5L302.5,458.5L303.5,457.5L307.5,457.5L308.5,456.5L312.5,456.5L313.5,455.5L317.5,455.5L318.5,454.5L332.5,452.5L337.5,450.5L341.5,450.5L342.5,449.5L346.5,449.5L347.5,448.5L351.5,448.5L352.5,447.5L356.5,447.5L357.5,446.5L362.5,446.5L364.5,448.5L364.5,450.5L366.5,453.5L366.5,455.5L368.5,458.5L368.5,460.5L370.5,463.5L370.5,465.5L376.5,478.5L379.5,515.5L386.5,528.5L391.5,532.5L396.5,533.5L399.5,535.5L401.5,535.5L409.5,539.5L414.5,540.5L422.5,544.5L424.5,544.5L428.5,546.5L431.5,546.5L434.5,548.5L432.5,550.5L410.5,550.5L409.5,551.5L390.5,551.5L389.5,552.5L346.5,552.5L345.5,553.5L336.5,553.5L335.5,554.5L336.5,556.5L779.5,556.5L779.5,426.5L778.5,427.5L755.5,427.5L754.5,428.5L748.5,428.5L741.5,433.5L722.5,433.5L721.5,432.5L697.5,433.5L696.5,432.5L692.5,432.5L691.5,431.5L688.5,431.5L680.5,428.5L675.5,428.5L665.5,424.5L658.5,425.5L657.5,426.5L653.5,426.5L652.5,425.5L642.5,425.5L637.5,427.5L633.5,431.5L628.5,433.5L616.5,433.5L607.5,427.5L602.5,426.5L601.5,427.5L600.5,435.5L594.5,439.5L587.5,437.5L584.5,435.5L579.5,434.5L576.5,432.5L571.5,431.5L563.5,427.5L554.5,427.5L553.5,428.5L547.5,428.5L546.5,429.5L534.5,430.5L533.5,431.5L526.5,431.5L525.5,432.5L524.5,431.5L507.5,431.5L500.5,434.5L491.5,434.5L490.5,435.5L487.5,435.5L483.5,437.5L480.5,437.5L479.5,438.5L474.5,439.5L459.5,431.5L451.5,430.5L450.5,429.5L444.5,429.5L443.5,428.5L426.5,423.5L402.5,402.5L394.5,398.5L390.5,394.5L375.5,387.5L373.5,385.5L357.5,377.5L344.5,363.5L343.5,363.5L330.5,351.5L319.5,351.5L318.5,352.5L310.5,352.5L309.5,353.5L297.5,353.5L286.5,343.5L274.5,344.5L273.5,343.5L270.5,343.5L265.5,341.5L261.5,341.5L260.5,340.5L256.5,340.5L255.5,339.5L253.5,339.5L245.5,343.5L240.5,343.5L239.5,342.5L233.5,341.5L226.5,338.5L206.5,338.5L203.5,332.5L203.5,328.5L201.5,323.5L200.5,314.5L196.5,311.5L188.5,311.5L179.5,303.5L168.5,298.5L159.5,298.5L155.5,305.5L158.5,309.5L158.5,311.5L159.5,312.5L159.5,318.5L163.5,320.5L166.5,320.5L167.5,321.5L167.5,325.5L168.5,326.5L168.5,335.5L167.5,337.5L157.5,347.5L155.5,348.5L151.5,348.5L147.5,350.5L129.5,349.5L128.5,348.5L119.5,348.5L115.5,351.5L110.5,351.5L109.5,352.5L102.5,353.5L100.5,351.5L99.5,346.5L93.5,342.5L89.5,338.5L87.5,337.5L82.5,337.5L77.5,334.5L71.5,333.5ZM211.5,421.5L213.5,421.5L215.5,423.5L215.5,427.5L214.5,428.5L211.5,428.5L210.5,427.5L210.5,422.5ZM325.5,385.5L324.5,399.5L322.5,402.5L312.5,402.5L311.5,401.5L307.5,401.5L306.5,400.5L302.5,400.5L301.5,399.5L296.5,399.5L290.5,395.5L285.5,395.5L284.5,394.5L260.5,393.5L257.5,390.5L257.5,386.5L260.5,383.5L264.5,381.5L266.5,381.5L272.5,384.5L300.5,386.5L311.5,380.5L315.5,380.5L316.5,381.5L321.5,382.5Z"/>
<path fill-rule="evenodd" fill="#ffb000" d="M779.5,445.5L760.5,445.5L759.5,446.5L746.5,446.5L745.5,447.5L739.5,447.5L738.5,448.5L733.5,448.5L732.5,449.5L714.5,449.5L708.5,446.5L700.5,444.5L693.5,440.5L689.5,440.5L688.5,439.5L680.5,438.5L679.5,437.5L673.5,437.5L672.5,436.5L661.5,436.5L660.5,437.5L656.5,437.5L655.5,438.5L650.5,438.5L639.5,443.5L633.5,443.5L632.5,444.5L615.5,446.5L610.5,448.5L600.5,455.5L592.5,459.5L584.5,461.5L581.5,463.5L579.5,463.5L575.5,465.5L572.5,465.5L571.5,466.5L568.5,466.5L567.5,467.5L564.5,467.5L563.5,468.5L560.5,468.5L559.5,469.5L547.5,469.5L546.5,470.5L513.5,470.5L512.5,469.5L504.5,469.5L503.5,470.5L501.5,470.5L500.5,469.5L489.5,469.5L488.5,468.5L481.5,468.5L480.5,467.5L473.5,467.5L472.5,466.5L468.5,466.5L467.5,465.5L462.5,465.5L461.5,464.5L455.5,463.5L451.5,461.5L448.5,461.5L441.5,458.5L438.5,458.5L437.5,457.5L430.5,457.5L429.5,456.5L422.5,455.5L417.5,462.5L417.5,474.5L418.5,475.5L419.5,498.5L420.5,499.5L420.5,505.5L426.5,517.5L432.5,525.5L434.5,525.5L442.5,529.5L447.5,530.5L450.5,532.5L452.5,532.5L460.5,536.5L465.5,537.5L468.5,539.5L470.5,539.5L481.5,544.5L485.5,544.5L486.5,545.5L499.5,545.5L500.5,546.5L519.5,546.5L520.5,547.5L518.5,549.5L478.5,549.5L473.5,551.5L436.5,550.5L431.5,552.5L347.5,553.5L346.5,554.5L337.5,554.5L336.5,556.5L779.5,556.5ZM393.5,413.5L391.5,416.5L391.5,422.5L396.5,430.5L401.5,435.5L409.5,446.5L413.5,448.5L418.5,449.5L419.5,443.5L412.5,433.5L405.5,420.5L401.5,415.5L397.5,413.5ZM60.5,556.5L175.5,556.5L175.5,554.5L174.5,553.5L169.5,553.5L168.5,552.5L164.5,552.5L163.5,551.5L156.5,551.5L155.5,550.5L148.5,550.5L145.5,548.5L146.5,547.5L178.5,548.5L181.5,545.5L181.5,543.5L182.5,542.5L182.5,537.5L180.5,533.5L177.5,531.5L173.5,530.5L170.5,524.5L170.5,517.5L168.5,512.5L168.5,503.5L170.5,501.5L169.5,491.5L166.5,491.5L157.5,481.5L153.5,480.5L149.5,476.5L150.5,474.5L155.5,473.5L164.5,477.5L169.5,477.5L181.5,470.5L183.5,470.5L186.5,468.5L191.5,468.5L203.5,463.5L205.5,466.5L207.5,466.5L220.5,454.5L222.5,454.5L225.5,458.5L227.5,458.5L228.5,457.5L232.5,457.5L233.5,456.5L237.5,456.5L238.5,455.5L252.5,453.5L257.5,451.5L261.5,451.5L262.5,450.5L266.5,450.5L267.5,449.5L271.5,449.5L272.5,448.5L276.5,448.5L277.5,447.5L281.5,447.5L282.5,446.5L286.5,446.5L287.5,445.5L301.5,443.5L306.5,441.5L310.5,441.5L311.5,440.5L325.5,438.5L326.5,437.5L329.5,437.5L334.5,435.5L329.5,434.5L328.5,433.5L323.5,433.5L322.5,432.5L318.5,432.5L317.5,431.5L312.5,431.5L311.5,430.5L307.5,430.5L306.5,429.5L302.5,429.5L301.5,428.5L296.5,428.5L295.5,427.5L291.5,427.5L290.5,426.5L286.5,426.5L285.5,425.5L280.5,425.5L279.5,424.5L275.5,424.5L274.5,423.5L269.5,423.5L268.5,422.5L260.5,421.5L246.5,403.5L243.5,403.5L239.5,405.5L236.5,413.5L226.5,428.5L223.5,434.5L223.5,438.5L224.5,439.5L223.5,442.5L218.5,448.5L216.5,448.5L207.5,438.5L205.5,434.5L205.5,420.5L206.5,419.5L206.5,413.5L207.5,411.5L213.5,406.5L217.5,399.5L215.5,398.5L204.5,387.5L203.5,384.5L199.5,379.5L195.5,380.5L192.5,377.5L192.5,373.5L194.5,371.5L194.5,369.5L192.5,367.5L186.5,366.5L185.5,365.5L181.5,365.5L160.5,394.5L156.5,398.5L155.5,398.5L154.5,397.5L154.5,394.5L155.5,393.5L155.5,386.5L156.5,385.5L156.5,379.5L157.5,378.5L157.5,373.5L158.5,372.5L158.5,366.5L146.5,360.5L139.5,360.5L138.5,359.5L123.5,358.5L119.5,356.5L116.5,359.5L113.5,365.5L111.5,367.5L110.5,378.5L107.5,382.5L102.5,384.5L100.5,383.5L96.5,378.5L96.5,368.5L97.5,367.5L97.5,365.5L96.5,364.5L96.5,360.5L95.5,359.5L95.5,355.5L94.5,353.5L89.5,351.5L83.5,346.5L75.5,346.5L73.5,344.5L73.5,334.5L60.5,328.5ZM165.5,493.5L166.5,493.5L168.5,496.5L168.5,500.5L167.5,501.5L163.5,501.5L162.5,500.5L163.5,496.5ZM132.5,413.5L132.5,405.5L137.5,401.5L153.5,401.5L157.5,406.5L157.5,408.5L155.5,410.5L150.5,413.5L145.5,414.5L142.5,416.5L137.5,416.5L136.5,415.5L134.5,415.5Z"/>
<path fill-rule="evenodd" fill="#ffa000" d="M140.5,555.5L140.5,556.5L150.5,556.5L141.5,556.5ZM556.5,550.5L563.5,556.5L618.5,556.5L618.5,551.5L612.5,551.5L611.5,552.5L572.5,552.5L568.5,549.5ZM703.5,454.5L695.5,447.5L691.5,445.5L685.5,444.5L677.5,441.5L673.5,441.5L668.5,439.5L661.5,439.5L660.5,440.5L650.5,441.5L645.5,446.5L645.5,447.5L641.5,451.5L640.5,451.5L625.5,474.5L620.5,479.5L616.5,481.5L611.5,481.5L610.5,480.5L605.5,480.5L604.5,479.5L598.5,479.5L597.5,478.5L592.5,478.5L591.5,477.5L579.5,477.5L560.5,493.5L550.5,493.5L549.5,492.5L544.5,492.5L543.5,491.5L531.5,490.5L531.5,494.5L530.5,495.5L530.5,507.5L522.5,514.5L522.5,516.5L526.5,522.5L536.5,533.5L536.5,534.5L538.5,535.5L549.5,535.5L550.5,536.5L562.5,536.5L563.5,537.5L574.5,537.5L575.5,538.5L591.5,538.5L592.5,539.5L600.5,539.5L610.5,533.5L622.5,524.5L630.5,522.5L633.5,520.5L635.5,520.5L648.5,515.5L667.5,514.5L684.5,506.5L686.5,506.5L691.5,503.5L698.5,501.5L700.5,499.5L701.5,469.5L702.5,468.5L702.5,458.5L703.5,457.5ZM60.5,329.5L60.5,462.5L61.5,461.5L76.5,462.5L77.5,463.5L90.5,464.5L91.5,465.5L96.5,465.5L97.5,466.5L106.5,466.5L107.5,465.5L124.5,464.5L132.5,468.5L137.5,473.5L136.5,479.5L123.5,491.5L119.5,493.5L114.5,493.5L108.5,490.5L101.5,490.5L100.5,491.5L96.5,491.5L91.5,493.5L65.5,493.5L60.5,497.5L60.5,518.5L66.5,523.5L73.5,523.5L74.5,524.5L82.5,526.5L96.5,533.5L103.5,533.5L104.5,532.5L108.5,532.5L109.5,531.5L113.5,531.5L114.5,530.5L118.5,530.5L119.5,529.5L131.5,529.5L137.5,532.5L144.5,538.5L146.5,539.5L150.5,539.5L161.5,522.5L164.5,519.5L164.5,510.5L166.5,505.5L163.5,505.5L159.5,507.5L157.5,506.5L157.5,502.5L162.5,489.5L156.5,484.5L151.5,484.5L149.5,483.5L140.5,473.5L140.5,472.5L143.5,470.5L146.5,470.5L147.5,469.5L154.5,469.5L155.5,470.5L158.5,470.5L163.5,472.5L171.5,472.5L172.5,471.5L177.5,470.5L180.5,468.5L182.5,468.5L186.5,466.5L189.5,466.5L205.5,460.5L210.5,455.5L210.5,454.5L202.5,442.5L201.5,437.5L200.5,436.5L201.5,435.5L201.5,411.5L193.5,404.5L183.5,400.5L182.5,399.5L182.5,395.5L181.5,394.5L170.5,399.5L168.5,401.5L160.5,405.5L160.5,408.5L157.5,414.5L151.5,422.5L150.5,426.5L147.5,430.5L136.5,434.5L130.5,434.5L112.5,421.5L110.5,419.5L110.5,417.5L111.5,415.5L121.5,406.5L122.5,406.5L129.5,398.5L131.5,398.5L134.5,396.5L136.5,396.5L146.5,392.5L147.5,382.5L148.5,381.5L148.5,376.5L139.5,370.5L137.5,370.5L136.5,369.5L131.5,369.5L130.5,368.5L124.5,368.5L119.5,365.5L117.5,365.5L114.5,368.5L112.5,372.5L111.5,382.5L108.5,387.5L103.5,404.5L100.5,406.5L98.5,403.5L97.5,395.5L96.5,394.5L95.5,387.5L93.5,383.5L93.5,375.5L92.5,374.5L92.5,369.5L90.5,365.5L90.5,361.5L88.5,359.5L83.5,358.5L81.5,356.5L71.5,356.5L69.5,354.5L69.5,349.5L70.5,348.5L70.5,344.5L71.5,343.5L72.5,335.5L70.5,333.5L62.5,329.5Z"/>
<path fill-rule="evenodd" fill="#ff8800" d="M651.5,444.5L651.5,448.5L650.5,449.5L650.5,466.5L653.5,468.5L660.5,468.5L670.5,473.5L679.5,474.5L691.5,466.5L694.5,458.5L694.5,456.5L691.5,451.5L680.5,446.5L673.5,445.5L670.5,443.5L667.5,443.5L666.5,442.5L657.5,442.5L656.5,443.5L652.5,443.5ZM162.5,409.5L161.5,411.5L161.5,438.5L157.5,442.5L157.5,446.5L158.5,448.5L160.5,449.5L162.5,448.5L172.5,449.5L176.5,453.5L178.5,453.5L179.5,454.5L180.5,453.5L188.5,451.5L195.5,443.5L195.5,439.5L196.5,438.5L196.5,430.5L197.5,429.5L196.5,424.5L189.5,417.5L175.5,410.5L169.5,409.5L168.5,408.5L164.5,408.5ZM114.5,373.5L113.5,375.5L113.5,384.5L114.5,385.5L114.5,390.5L115.5,392.5L120.5,394.5L122.5,393.5L126.5,393.5L134.5,390.5L137.5,387.5L138.5,385.5L133.5,381.5L127.5,378.5L125.5,378.5L121.5,375.5ZM60.5,335.5L60.5,385.5L64.5,383.5L66.5,388.5L69.5,388.5L70.5,389.5L83.5,389.5L84.5,388.5L86.5,388.5L88.5,386.5L88.5,383.5L90.5,380.5L90.5,377.5L89.5,376.5L88.5,370.5L84.5,366.5L82.5,365.5L65.5,365.5L63.5,366.5L60.5,364.5L60.5,357.5L63.5,349.5L64.5,342.5L66.5,338.5Z"/>
<path fill="none" stroke="#262626" stroke-width="0.8" style="mix-blend-mode:luminosity" d="M60.5,137L110.5,159.8L132.9,171.5L150.5,177.6L178.5,133.5L185.5,124.2L187.5,123.1L189.3,124.5L196.5,134.7L211.5,135.3L225.5,158.5L229.5,163.5L242.5,170.3L254.5,173.7L256.5,176.1L260.5,183.8L262.5,185.6L274.5,186.5L277.7,189.5L284.5,193.1L291.5,194.5L299.7,194.5L316.5,182.4L326.5,177.9L333.5,175.8L341.5,174.7L352.5,177.1L360.5,176.5L370,173.5L376.5,166.9L386.5,164.7L398.5,166.2L402.5,167.8L408.9,172.5L416.5,183.1L420.5,185.5L424.5,182.9L437.5,167.2L449.5,159.8L461.5,155.3L478.5,153.7L479.9,152.5L469.6,140.5L465.5,137.6L461.5,136.7L458.5,134.5L450.5,133.2L442.5,129.6L437.8,121.5L438.9,116.5L440.2,114.5L443.5,112.9L453.5,111.8L467.5,112.1L480.5,110.7L487.5,111.7L493.5,115.6L500.5,117.2L515.5,116.5L526.7,114.5L535.5,110.5L540.5,105.5L543.5,98.9L544.5,93.8L544.6,87.5L543.5,82.5M60.5,137.3L110.5,160.1L132.3,171.5L150.5,178L176.5,137.9L180.5,133L183.5,132L192.5,143.3L211.5,142.9L234.5,180.2L239.5,183.4L256.5,191.6L260.2,197.5L262.5,198.9L277.5,196.3L290.5,197.5L299.5,196.8L317.5,184.5L326.5,180L335.5,177.4L341.5,176.6L352.5,178.9L363.5,177.8L368.5,176.5L372.3,174.5L377.5,168.5L386.5,166.5L398.5,168.2L401.5,169.6L408.1,174.5L416.5,185.8L420.5,189L424.5,185.4L437.5,168.5L449.5,161L462.5,156.1L481.5,154.5L482.4,153.5L469.5,139.3L465.5,136.3L461.5,135.5L459.5,133.6L451.5,132.5L447.5,130.2L444.2,129.5L439.6,121.5L440,119.5L442.3,115.5L454.5,113.7L467.5,114L480.5,112.7L486.5,113.8L494.5,118.3L500.5,119.6L513.2,119.5L527.2,117.5L538,113.5L544.5,108.5L551.1,101.5L552.4,99.5L553.6,94.5L553.1,87.5L555.3,84.5L555.5,82.5M60.5,137.5L109.5,159.8L131.8,171.5L150.5,178.3L151.8,177.5L170.5,148L176.5,141.1L178.5,140.8L180.5,141.9L186.5,150.5L188.5,151.8L207.5,151.2L211.5,150.5L239.5,196.8L242.5,199.4L254.5,205.3L261.5,204.4L266.5,204.7L276.5,201.9L299.5,198.4L317.5,186.1L326.5,181.4L335.5,178.7L344.5,177.9L352.5,180L363.5,179.1L372.5,176L378.4,169.5L386.5,167.8L397.5,169.4L400.5,170.5L407.4,175.5L416.5,187.2L420.5,190.1L422.2,189.5L437.6,169.5L449.5,161.9L462.5,156.9L482.5,155.3L484.1,154.5L466.5,134.5L462.5,133.4L460.5,131.5L452.2,128.5L447.5,127.8L443.5,125.8L440.8,121.5L443.1,116.5L454.5,114.8L467.5,115.1L480.5,113.9L486.5,115.1L495.5,119.9L503.5,121.1L515.5,120.8L532.5,118L539.8,115.5L546.7,111.5L556.2,102.5L559.7,94.5L560.4,90.5L560,87.5L557.5,85.5L556.5,82.5M60.5,137.7L109.5,160L131.5,171.6L150.5,178.6L152.2,177.5L167.5,153.9L171.5,149.8L175.8,150.5L181.6,158.5L183.5,160L207.5,159.4L211.5,158.1L214.5,161.9L244.5,213.2L246.5,214.6L251.5,215.1L261.4,212.5L280.5,205.3L300.5,199.4L318.5,187.1L327.5,182.3L336.5,179.6L342.5,178.9L352.5,181L363.5,180.3L372.8,177.5L374.5,176.5L378.7,171.5L385.5,169.8L392.8,170.5L400,172.5L406.5,176.8L417.5,189.3L421.5,191.1L425.5,187.2L437.8,170.5L449.9,162.5L462.5,157.6L474.5,156.1L483.5,156L485.1,155.5L485.5,154.5L467.1,133.5L463.5,132.4L460.5,130.2L457,129.5L454.5,127.8L447.5,126.6L443.5,124.4L442.1,121.5L444.1,117.5L447.2,116.5L454.5,116L467.5,116.2L481.5,115.3L486.9,116.5L496.5,122L504.5,123.2L515.5,123L525.5,121.9L539.5,118.8L551.5,113.2L559.7,105.5L566.3,93.5L568.2,82.5M60.5,137.9L109.5,160.3L131.5,171.7L150.5,178.9L152.5,177.8L164.5,160.2L166.5,158.7L171.6,159.5L177.5,167.4L179.5,168.4L207.5,167.5L211.5,165.9L214.5,169.4L241.5,215.9L242.5,216.8L252.5,218.2L261.8,215.5L280.5,207.6L299.5,201.1L325.5,184.7L337.5,180.7L344.5,180L352.5,182.1L361.5,181.8L375.2,178.5L379.5,175.7L385.5,176L397.5,178.3L407.5,181.5L410.5,183.4L418.5,191.2L420.5,192.2L422.5,191.9L438.5,171L450.5,163L463.5,158.1L474.5,156.7L484.5,156.7L487.1,155.5L486.8,153.5L484.5,150.2L468.5,132.5L463.5,130.5L461.5,128.8L457.5,127.8L455.5,126.1L446.8,124.5L444.5,122.5L444.4,121.5L446.5,118.7L478.5,117.5L485.5,118.2L490.4,121.5L490.1,125.5L492,128.5L499.5,131.4L509.5,133.6L530.5,127.7L548.5,124.2L559.5,116.2L572.5,101.5L574.5,100.8L581.5,101L585.9,96.5L594.1,92.5L598.1,87.5L597.9,86.5L589.5,84.8L588.3,82.5M60.5,138L110.5,160.9L131.5,171.9L150.5,179.2L152.6,178.5L157.5,171.3L161.5,167.6L167.5,168.5L172.7,175.5L174.5,176.7L206.5,175.7L211.5,173.6L212.5,174L238.7,218.5L240.5,219.5L246.5,218.2L253.5,220.2L264.9,216.5L280.5,209.3L299.5,202.3L326.5,186L338.5,182L344.5,181.3L352.5,183.2L356.5,183.2L378.5,180.5L390.8,184.5L408.5,184.9L411.5,186.4L418.5,192.5L422.5,193.6L440.5,170.4L451.5,163.3L462.5,159.1L474.5,157.4L486.5,157.5L488.5,156.9L489.3,155.5L490.5,146.9L491.7,144.5L500.5,143L507.5,145.5L516.5,145.5L526.3,138.5L534.1,134.5L544.5,132.9L557.5,133.7L568.5,130.3L578.5,128.3L609.9,124.5L623.7,119.5L626.5,116.4L630.8,108.5L632.8,87.5L634.2,82.5M640.7,82.5L641.7,84.5L644.5,85.7L644.6,82.5M745.4,82.5L746.9,92.5L745.5,93.5L737.5,92.6L727.5,92.7L723.5,91.7L714.5,91.9L711.5,91L702.5,92L697.5,90.9L687.6,91.5L689.6,92.5L741.9,99.5L763.5,105.1L767.5,105.2L769,108.5L771.5,110.4L779.5,110.5M687.5,91.5L684.5,90.3L680.2,90.5L682.5,91.6M60.5,138.4L110.5,161.3L132,172.5L150.1,179.5L151.3,180.5L150.9,184.5L151.5,185.3L159.5,186.8L164.5,193L206.5,191.9L212.5,189.2L233,223.5L234.5,224.6L246.5,220.4L252.5,222.4L259.6,221.5L276.8,213.5L298.5,204.9L313.5,196.5L321.5,194L337.5,186.2L344.2,184.5L357.5,185.9L374.5,184.2L392.5,188.6L409.5,190.7L418.5,196.2L423.5,197L425.4,195.5L431.5,185.5L441.5,172.6L452.5,165.2L464.5,160.6L476.5,159.1L496.5,160.3L503.5,159.4L512.5,161.7L549.5,153.2L564.5,155.3L585.8,146.5L608.5,141.6L629.5,138L646.5,130.9L684.5,131.4L698.5,136.2L728.5,132.9L737.5,134.2L751.5,139.9L763.5,136.9L769.5,136.6L772.5,133.6L773.5,133.7L776.5,139.1L779.5,138.6M60.5,138.7L110.2,161.5L131.5,172.6L149.2,179.5L150.1,181.5L142.5,195.5L140.3,200.5L140.5,203.2L150.5,204.5L155.1,209.5L157.5,210L206.5,208.2L208.5,207.5L212.5,204.4L214.5,206.5L227.5,228.8L229.5,229.9L246.5,222.7L251.5,224L261.5,223.5L286.5,211.9L298.5,207.7L313.9,200.5L324.5,197.9L341.5,190.7L360.5,190.3L372.5,188.9L410.5,196.1L420.5,200.2L425.5,200.2L427.5,198.9L437.5,185.1L445.4,176.5L455.5,169.4L469,164.5L478.5,163.5L488.9,165.5L501.5,176.2L519.5,179.5L547.2,176.5L571.5,172.7L600.5,175L630.5,175.1L652.5,178.4L662.5,179.2L683.5,177.4L694.5,179L702.5,178.4L710.5,174.2L721.5,165.2L733.5,160.8L756.5,157.1L779.5,158.2M60.5,139.1L74.5,146.1L109.4,161.5L131.5,173.1L146.4,178.5L149.4,180.5L148.9,182.5L130.5,215.5L129.2,219.5L129.5,221L141.6,222.5L145.5,225.9L148.5,226.6L167.5,225.4L206.5,224.4L212.5,219.9L214.5,221.4L221.6,233.5L223.5,235L246.5,224.9L250.5,225.6L261.5,225.3L282.5,216.5L286.5,213.7L293.5,211.8L309.5,210.2L316.5,208.6L340.5,198.1L351.5,194.8L373.5,193.5L419.5,202.8L426.5,203.2L429.4,202.5L436.5,196.9L443.5,193.2L453.5,189L458.5,187.8L461.1,188.5L467.6,196.5L471.5,198.1L474.5,196.5L482.5,189.5L484.5,188.8L495.5,191.5L509.5,189.7L511.3,197.5L522.5,200L543.2,194.5L550.5,191.6L559,193.5L570.1,204.5L581.4,210.5L590.5,211.8L601.5,209.8L617.5,213.7L636.5,212.8L648.5,216.5L659.5,222.7L670.6,221.5L689.5,215.3L701.5,214.8L714,220.5L733.5,232.1L739.5,234.6L743.5,235.3L751.5,235L760.5,229.8L779.5,201M60.5,139.4L73.5,146.1L108.5,161.5L130.5,173.1L145.5,178.5L148.7,180.5L148.1,182.5L126.5,220L118.3,237.5L118.5,238.7L133.5,240.7L137.5,243.1L205.5,240.8L208.5,239.5L212.5,235.4L214.5,236.4L216.5,239.5L218.5,240.3L246.5,227.3L264.5,225.7L279.5,218.6L283.5,218.5L286.5,215.2L290.5,216L294.5,214.4L302.5,215.8L313.5,215.5L322.5,212.9L341.7,203.5L352,199.5L371.5,197.8L421.5,206.2L464.5,207L482.5,213.8L495.5,215.6L508.5,215L512.4,215.5L519.5,217.5L530.5,222.8L545.5,226.9L574.5,230.9L591.5,238.2L603.5,240.5L613.5,243.8L625.5,244.6L637.5,249.2L648.5,250.9L659.5,249.7L670.5,251L676.5,253.7L688.5,265.4L702.5,270.3L756.5,269.8L764.5,264.9L779.5,242M60.5,140L74.5,147.2L109.1,162.5L131.5,174.2L147.6,180.5L147.5,182L113.2,241.5L107.8,252.5L107.4,256.5L129.5,259.9L155.5,258.2L183.5,257.9L184.9,258.5L184.5,259.5L172.6,269.5L172.6,270.5L175.7,273.5L183.5,278.7L185.5,278.1L201.5,265L207.7,252.5L214.5,245.2L247.5,229.3L256.5,227.4L263.5,227.2L268.5,225.5L271.5,225.7L271.6,224.5L279.5,219.7L283.5,220.8L286.5,218.9L296.5,218.4L308.5,225.1L316.5,227.8L330.5,226.6L346.5,220.7L355.5,224.7L361.5,226.4L378.5,227.6L387.5,226L391.5,226.2L398.5,227.7L408.5,232.3L420.9,235.5L427.5,239.1L444.5,235.5L458.5,235.5L459.5,236.5L461.5,235.6L486.5,245.5L518.5,250.5L524.5,250.7L525.5,251.5L534.5,251.5L561.5,272.1L568.5,274.2L590.5,278.6L604.5,283L620.7,285.5L631.5,289.5L634.5,292.5L634.5,293.5L640.5,301.5L642.9,317.5L641.7,327.5L642.5,331.9L646.5,338.5L655.5,346.5L657.5,347.2L714.5,305.7L759.5,305L762.5,304.2L768.5,299.7L779.5,283M60.5,140.9L63.8,142.5L67.2,145.5L96.7,247.5L101.9,257.5L101.8,260.5L96,272.5L96.5,274.5L106.5,275.5L121.5,275.2L152.5,272.2L168.5,274.2L177.5,279.4L187.5,288.9L189.7,289.5L201,282.5L205.5,278.1L206.3,273.5L205.7,264.5L210.3,254.5L215.5,248.2L222.5,246L234.5,238.5L247.5,231.6L253.5,229.3L260.5,228.1L264.5,229.6L266.1,227.5L267.5,227L271.5,228.6L275.9,225.5L279.4,221.5L280.5,221.5L284.5,224.5L284.7,225.5L282.1,234.5L282.1,245.5L280.5,248.5L274.5,254.5L270.5,255.5L277.5,255.5L278.5,256.5L281.5,256.5L282.5,255.5L285.5,255.5L286.5,254.5L290.5,254.6L297,257.5L302.5,258.6L315.5,257.5L339.5,253L359.5,250.8L375.5,250.7L396.5,254.8L398.5,256.5L409.5,257.5L410,258.5L411.5,258.6L419.3,263.5L425.5,264.1L444.5,260.9L449.6,261.5L460.7,265.5L474.5,274.5L477.5,274.8L486,278.5L516.5,286.7L526.9,296.5L535.5,303L547.5,308.1L561.5,311.2L575.5,316.1L600.8,332.5L609.5,343.2L613.5,346.4L622.5,348.5L633.5,352.5L638.5,357.5L642.5,366.6L646.2,378.5L650.5,386.2L655.5,392.1L656.5,392L657.5,390L661.7,374.5L663.5,371.8L678.5,372.6L681.5,372L724.5,340.6L766.5,339.4L771.5,335.8L779.5,324M257.5,257.5L258.5,256.5L260.5,256.5L257.5,256.5L256.5,257.5L254.5,257.5M60.5,318.3L79.5,307.9L83.5,301.5L85.5,299.8L91.5,302.8L98.5,299.9L103.5,299.5L112.5,297.2L117.5,297.4L126.5,296L132.1,290.5L140.5,287.3L144.5,282.4L159.5,279.4L167.5,280.1L173.5,282.8L179.5,287.4L187.5,295.9L197.5,302.1L209.5,304.8L211.4,304.5L211.7,302.5L210.2,292.5L211.9,284.5L211.6,267.5L213.5,259.9L215.5,255.5L217.5,253.2L219.5,252.7L221.5,253.2L223.5,256.7L226.5,255.5L228.9,253.5L229.4,248.5L237.5,242.7L241.8,238.5L252.7,231.5L260.5,229.4L262.5,231.3L265.1,236.5L255.5,245.4L249.5,248.3L247,251.5L241.1,262.5L239.6,269.5L241.6,271.5L246.5,273.7L259.5,275.7L270.5,275.1L282.5,278.8L290.5,280.1L302.3,276.5L314.5,273.9L331.5,274.2L339.5,275.8L352.5,280.2L365.5,279.5L372.5,280.9L404,290.5L422.5,297.5L423.7,300.5L435.9,316.5L443.5,322.4L451.5,326.6L458.5,334.5L464.5,343.5L479.5,356.4L486.4,363.5L492.5,371.4L505.5,378.8L513.5,382.2L520.5,383.2L538.5,379.7L568.5,375.6L581.5,376.7L602.3,380.5L612.8,387.5L619.5,390.3L622.5,390.7L632.5,390.1L641.5,391.9L659.5,404.3L661.5,404.7L665.7,403.5L668.3,395.5L669.5,394.4L674.5,395.4L704.5,396.7L733.5,376L743.5,374.9L770.5,374.6L773.9,372.5L779.5,365M269.5,232.9L268.5,232.5L268.5,230.7L269.8,231.5M333.7,556.5L332.6,553.5L331.5,553L276.5,552.7L264.8,551.5L259.5,549.5L256.6,545.5L254.8,530.5L249,516.5L244.5,516.5L216.5,522.1L214.5,521.4L213.3,517.5L209.5,494.7L208.5,492.7L199.5,493.7L194.9,502.5L194.3,506.5L196.3,517.5L204.5,535.8L204.6,541.5L209.3,548.5L209.8,552.5L208.2,556.5M60.5,326.7L72.5,332.4L74.5,332.6L78.5,323.8L80.5,322.7L86.4,326.5L91.5,327.9L101.5,336L104.5,337.6L109.5,335.1L113.5,334.1L122.5,336.2L129.5,335.4L151.5,324.5L152.9,316.5L151.3,303.5L152.6,296.5L154.8,292.5L160.5,290.9L169.5,292.7L178.5,296L186.5,302.7L191.5,305.8L197.5,307.4L205.5,307.4L214.5,312.2L217.5,312.4L223.5,311.2L233.5,303.1L239.5,302.5L257.6,305.5L266.4,308.5L271.5,314.1L276.5,317.5L297.5,318.9L311.5,315.6L323.5,317.5L339.4,323.5L350.5,331.6L365.5,345.5L372.5,350.5L384.1,372.5L406.2,392.5L416.4,399.5L422.2,402.5L430.5,404.9L449.5,406.9L466.5,409.7L478.5,408.2L489.5,404.6L544.5,409.9L568.5,407.6L593.5,415.4L603.5,410.8L607.5,409.9L611.5,410.2L623.5,415.6L634.5,410.9L642.5,409.7L656.5,413.1L663.5,412.6L668.3,413.5L680.5,418.6L725.5,421.2L730.5,420.2L744.5,410.5L774.5,409.6L776.5,408.9L779.5,406M335,556.5L334.6,553.5L336.5,552.3L343.5,552.2L348.5,550.9L370.4,550.5L378.8,549.5L371.2,547.5L348.5,538.6L343.7,535.5L338.2,524.5L335.6,496.5L324.8,470.5L319.5,470.5L220.5,490.4L218.6,487.5L216.5,475.6L215.5,473.7L213.5,474.3L206.5,479.9L204.5,477L202.1,468.5L200.5,467.3L191.5,471.9L186.5,472.1L178,478.5L173.8,486.5L174.5,496.5L176.4,505.5L193.3,540.5L195.8,547.5L197.1,556.5M60.5,328L73.8,334.5L73.8,342.5L75.2,345.5L83.5,346.2L89.5,350.5L94.5,352.9L97.9,366.5L96.9,370.5L97.3,378.5L101.5,383.3L103.5,383.4L108.5,381.3L109.5,378.7L110.7,368.5L118.5,356.6L148.5,360.8L157.5,365.3L159,367.5L155.5,393.6L155.5,398.2L156.5,398.4L181.5,365L184.5,364.9L193.5,368L195.4,370.5L192.6,374.5L193.6,378.5L195.5,379.6L200.5,379.7L207.5,390.3L217.6,399.5L217.2,401.5L211.5,409.2L207.5,412.6L206.1,432.5L206.7,435.5L209.5,439.9L217.5,448.1L219.5,447.1L223.4,441.5L223.5,433.5L236.7,411.5L238.9,405.5L244.5,402.9L246.5,403.3L259.3,419.5L261.5,420.9L328.5,433.5L334.9,435.5L333.5,436.5L325.8,438.5L226.5,458.8L224.5,458.1L222.5,454.6L221.5,454.7L206.5,467.1L203.5,464.5L200.5,464.8L191.5,468.7L185.5,469.6L168.5,478L165.5,478.1L154.5,474.3L150.5,475.4L150.2,476.5L152.5,479.4L159.2,482.5L166.5,490.8L169.6,491.5L171.3,500.5L169.3,503.5L168.9,510.5L171.8,526.5L173.5,529.5L180.5,533L182.5,536.5L183,539.5L181.5,545.8L180.5,547.5L178.5,548.5L171.5,548.9L148.5,548L146.3,548.5L147.6,549.5L154.5,549.8L157.5,551L173.5,552.8L176,554.5L176.1,556.5M142.5,415.5L151.5,412.5L156.5,408.7L157.1,407.5L154.5,402.9L153.5,402.1L139.5,402.1L136.5,402.9L134.1,404.5L132.7,411.5L133.2,413.5L138.5,415.9M418.5,450L412.5,448.5L409.5,446.6L395.7,429.5L390.8,420.5L390.9,417.5L392.5,413.9L395.5,413.3L399.5,414L404.2,418.5L419.1,441.5L419.6,444.5L419.2,449.5M336.5,556.5L337,554.5L344.5,554.3L348.5,553.3L387.5,553.2L392.5,552.1L430.5,551.8L435.5,550.5L474.5,550.5L479.5,549L519.2,548.5L520,547.5L518.5,546.9L495.5,546.3L481.2,544.5L430.8,524.5L421.1,507.5L419.9,503.5L416.9,464.5L417.5,462L420.3,458.5L421.5,455.5L422.5,455.1L439.5,457.8L462.5,464.5L489.2,468.5L502.5,469.5L544.5,469.6L557.5,469L576.1,464.5L594.5,458L613.5,446.9L637.5,443.1L649.5,438.7L665.5,435.7L680.5,437.6L692.5,440.2L716.5,449.2L728.5,449.1L755.5,445.7L779.5,445.1M167.5,500.5L167.5,496L165.5,493.7L163.4,500.5L164.5,501.3M60.5,364.5L62.6,365.5L79.5,364.9L83.5,365.6L88.3,369.5L90.8,378.5L88.1,387.5L86.5,388.7L82.5,389.9L73.5,390.2L67.5,389.1L65.6,387.5L64.5,384.2L60.5,386.1M121.5,394.5L116.5,393.4L114.5,390.7L113.2,380.5L113.5,375.1L114.5,373.2L116.5,373.1L133.5,381.3L138.6,385.5L137.3,388.5L134.5,390.9L126.5,393.7M179.5,454.5L176,453.5L172.5,450L159.5,449.3L157.1,446.5L156.9,443.5L161,437.5L161.5,429.5L160.6,417.5L161.5,411.4L163.5,408.6L167.5,408.2L172.5,409.2L185.5,415.1L191.5,418.5L197.4,425.5L196.9,436.5L194.8,445.5L188.5,451.7M679.5,474.6L670.5,473.6L660.5,469.4L653.5,468.7L650.9,467.5L649.7,464.5L649.5,456.5L650.9,446.5L652.1,443.5L662.5,442.1L667,442.5L680.5,446.4L690.5,450.6L692.5,452.1L694.7,457.5L691.5,466.5L686.5,470.5"/>
<path fill="none" stroke="#262626" stroke-width="0.8" stroke-dasharray="3,3" style="mix-blend-mode:luminosity" d="M60.5,140.3L72.5,147L109.7,163.5L131.5,175L146.6,180.5L146.5,182.1L124.9,218.5L104.3,255.5L102.1,264.5L102.5,265.6L124.5,268.2L158.8,266.5L160.1,267.5L159.3,269.5L160.6,270.5L170.5,272.8L186.5,284.5L188.5,284.8L193,281.5L202.6,271.5L203.7,269.5L204.5,263.5L208.4,254.5L215.5,246.3L221.5,243.9L247.5,230.4L256.5,227.9L264.5,227.8L267.5,226.3L271.5,227.6L274.6,225.5L279.5,220.4L283.5,222.1L286.5,220.8L291.5,221.5L294.3,228.5L303.5,240.4L305.5,241.6L311.5,242.7L332.5,240.2L343.5,237.8L381.5,239.7L391.5,237.3L401.5,237.1L415.5,242.7L417.5,244.9L420.5,251.6L425.5,255.7L428.5,255.5L440.5,251.1L449.5,250.6L459.5,252.6L465.5,251.3L468.5,251.5L475.5,255.1L487.5,259L498.5,264.3L505.5,266L513.5,270.1L525.5,270L530.5,271.1L544.1,284.5L550.5,288.9L555.5,290.7L583.5,297.2L597.5,304L609.5,308.6L612.5,311.1L622.9,325.5L625.4,334.5L635.5,338L648,348.5L650.2,352.5L651.4,363.5L653.5,367.7L655.5,369.7L656.5,369.2L659.4,361.5L660.4,360.5L667.5,360.4L670.1,359.5L718.5,323.6L723.5,322.7L763.5,322.2L769.5,318.4L779.5,303.5M60.5,276.7L78.5,282.9L86.5,284.3L94.5,281.7L109.5,279.3L124.5,281.1L132.5,278.8L154.5,275.5L167.5,276.2L176.5,280.8L187.5,292.3L191.5,294.1L202.5,287.8L208.5,283.4L209.1,279.5L207.5,265.5L211.9,255.5L216.4,249.5L223.5,248.1L247.5,232.8L253.5,230.1L258.5,228.8L261.5,228.8L265.5,232.5L266.7,228.5L267.5,228.1L270.5,229.7L272.5,229.5L279.5,223.2L280.5,223.1L281,225.5L277.5,231.5L266.6,243.5L263.5,245.4L251.5,249.9L248.5,252.5L244.5,261.5L246.5,265.8L248.5,267.8L256.5,269.9L270.5,267.7L280.5,270.3L290.5,270.2L312.5,265.9L327.5,264.3L342.5,264.2L354.5,265.5L367.5,264.1L376.5,266.1L387.5,272.8L395.5,274.9L405.5,276.3L413.5,279.8L421.5,279.4L426.5,277.6L437.5,276.9L447.5,283.7L450.4,289.5L458.5,299.4L462.5,301.3L475.5,302.5L477.8,304.5L482,312.5L485.2,315.5L502,324.5L520.5,340.3L523.5,341.2L536.5,342.4L541.5,343.8L556.5,344L567.5,345L576.5,348L590.9,354.5L597.5,364L612.5,366.9L618.5,371.1L626.5,373.3L637.4,380.5L639.5,383.4L645.5,388L651.7,394.5L658.5,399.1L660.5,399L661.5,397.7L664.8,385.5L666.5,383.2L692.8,384.5L728.5,358.5L736.5,357.6L768.5,357L772.5,354.5L779.5,344.5M97.5,265L96.5,264.5L96.5,254.5L97.5,253.7L99.5,255.9L100.7,259.5M213.3,542.5L212.2,538.5L210.5,536.8L209.5,537.1L207.8,539.5L208.1,541.5L210.5,542.7M256.5,232.8L255.7,232.5M243.5,244.1L243.4,241.5L249.5,235.5L255.5,232.6L256,233.5M60.5,325.9L72.3,331.5L73.7,331.5L79.5,315L82.5,311.1L98.5,321L108.5,322.6L130.5,318.5L134,315.5L141.5,303.8L143.6,297.5L148.2,288.5L150.5,287.1L157.5,285.3L163.5,285.4L170.5,287.4L180.5,293L186.5,298.7L192.5,302.8L198.5,305L206.5,305.4L212.5,308.3L218.5,306.4L219.1,300.5L221.4,295.5L221.1,289.5L222.5,288.2L240.5,286.9L258.5,290.1L270.5,289L278.5,291.3L283.5,295.1L294.5,299L306.5,294.5L315.5,293.4L327.5,295L336.5,298.3L344.5,300.1L350.5,303.1L360.5,303.4L365.5,305L376,313.5L390.5,318.1L393,319.5L403.2,333.5L411.5,350.3L415.5,354.3L428.5,361.7L440.5,371.9L447.5,375.1L462.5,379.3L475.5,391.2L477.5,392L490.5,389.3L495.5,390.5L505.5,395.4L522.5,397.8L538.5,394.8L572.5,391.8L588.5,395.5L601.5,395.6L606.5,398.2L611.5,398L622.5,402L632.5,400.5L641.5,400.6L658.5,408.8L669.5,409.1L672.5,405.6L677.5,407L714.5,409L718.5,408L739.5,393L772.5,392.1L775.5,390.5L779.5,385.5M334.5,556.5L333.5,551.8L332.5,551.1L317.8,549.5L304.5,544.4L300.6,541.5L297.3,534.5L295.2,513.5L286.9,493.5L281.5,493.6L217.5,506.1L216,502.5L212.5,483.7L211.5,483.1L206.5,486.3L205.5,485.8L200.5,471.7L199.5,470.6L190.9,475.5L185.3,481.5L183.5,485.6L182.4,493.5L184.5,504.5L186.3,509.5L199.5,537.1L204,550.5L203.5,554.5L204.2,556.5M60.5,327.3L72.5,333L77.5,333.9L81.5,336.3L87.5,337L98.8,345.5L101.5,351.9L102.5,352.7L115.5,350.6L120.5,347.5L144.5,349.9L155.5,347.7L158.5,346L166.5,338L167.7,333.5L167.2,322.5L166.5,321.5L161.5,320.2L159.5,318.5L158.3,311.5L155.7,306.5L155.6,304.5L160.5,297.7L170.5,298.9L180.1,303.5L187.5,310.3L197,311.5L199.4,312.5L200.5,314.5L204.8,334.5L206.5,337.5L225.5,338.3L243.5,343.4L254.5,339.4L276.5,343.9L285.5,342.7L287.5,343.7L297.5,352.5L299.5,353.4L324.5,350.7L329.5,351L334.7,354.5L350.5,368.9L356.1,375.5L390.5,394.5L395.5,398.4L402.5,402.2L414.5,413.2L426.5,422.7L444.5,428.6L458.5,431L474.5,438.7L492.5,434.1L499.5,434.1L510.5,430.7L527.5,431.4L560.5,426.8L563.5,427.3L593.5,438.5L596.5,437.9L599.5,435.6L601.5,427.3L602.5,425.7L603.5,425.5L618.5,433.3L630.5,432.2L638.5,426.5L644.5,425.1L656.5,425.6L663.5,424.5L667.5,424.7L674.5,427.5L684.5,429.3L691.5,431.5L704.5,433.2L715.5,432.2L739.5,433.2L742.5,432.4L749.5,427.9L776.5,427L779.5,426.2M322.8,401.5L325.1,385.5L322.5,383.6L314.5,381L310.5,381.6L299.5,386.8L273.5,384.8L265.5,382.3L260.1,384.5L258.4,386.5L258.2,390.5L260.1,392.5L287.5,394.9L298.5,398.9L318.5,402.4L321.5,402.3M214.7,427.5L215.2,425.5L214.5,423.4L212.5,421.7L211.5,422.1L210.9,424.5L211.5,428.2L212.5,428.5M335.7,556.5L335.3,554.5L336.5,553.3L344.5,553.1L348.5,552.1L387.5,552L392.5,550.7L431.5,550.1L433.7,548.5L391.5,532.5L386.8,529.5L379.1,514.5L375.7,478.5L363.6,448.5L362.5,447.4L360.5,447.1L223.5,474.7L221.5,472.9L219.8,465.5L218.5,464.1L206.5,473.5L205.5,472.9L203,466.5L200.5,466L191.5,470.3L185.5,470.8L176.5,476.1L172.5,480.2L165.5,482.8L164.9,484.5L166.5,487.7L171.5,490.5L173.1,500.5L171.2,504.5L171.5,506.7L176.5,518.9L189.2,541.5L191.2,548.5L191.2,556.5M60.5,328.7L72.4,334.5L73,335.5L70.5,348.5L70.3,353.5L71.2,355.5L80.5,355.9L83.5,357.6L88.5,359L90.1,360.5L92.7,369.5L94.5,383.5L100.5,406.2L101.5,406.5L110.5,383.5L112.3,372.5L116.5,365.6L118.5,365L124.5,367.6L137.3,369.5L148.5,375.7L148.9,379.5L146.5,392.9L128.5,400L125.5,403.9L111.5,416.5L110.6,418.5L112.3,420.5L131.5,434.3L134.5,434.2L146.5,430.5L149,428.5L151.3,422.5L158.5,411.2L160.5,404.9L176.5,396.4L181.8,394.5L182.8,395.5L183.4,399.5L193.5,404.3L201.8,411.5L202.3,414.5L201.8,439.5L210.6,454.5L210,456.5L205.5,460.9L171.5,472.5L166.5,473.2L150.5,470L140.7,472.5L140.6,473.5L149.5,482.8L157.5,484.7L161.4,487.5L162.9,489.5L158.1,503.5L158.2,506.5L165.5,504.8L166.7,505.5L164.9,511.5L164.8,519.5L149.5,540.2L144.4,538.5L134.5,531.3L128.5,529.7L123.5,529.7L103.5,533.6L97.5,533.8L75.5,525L65.7,523.5L60.5,519M600.5,539.5L575.3,538.5L539.5,535.7L536.5,534.5L524.8,520.5L521.9,515.5L522.5,514.1L528.5,509.5L529.9,507.5L530.5,492.5L531.4,490.5L537.4,490.5L555.5,493.3L560.5,493L577.5,478.6L581.5,476.6L612.5,480.7L616.6,480.5L622.5,477.2L640.3,451.5L643.5,449.5L648.9,442.5L652.5,440.7L665.5,439.1L681.5,442.4L694.5,446.5L703.5,454.2L704,455.5L700.4,500.5L666.5,515L650.5,515.7L623.5,525L603.3,538.5M60.5,497.4L63.6,494.5L66.5,493.3L88.5,493L103.5,490.2L107.5,490.2L116.5,493.1L119.5,492.6L124.5,490L134.2,481.5L136,478.5L137.5,473.5L132.8,469.5L122.5,464.9L100.5,467L79.5,463.7L63.5,462.1L60.5,462.5M563.1,556.5L555.8,550.5L562.5,549.8L566.5,548.5L569.4,549.5L572.5,552.4L574.5,552.5L573.5,553.5L573.5,556.5"/><path d="M60.0,80.0 L366.3,80.0 L366.3,92.0 L368.8,97.0 L370.0,100.8 L375.0,102.0 L378.8,103.9 L379.8,108.3 L378.8,112.0 L375.0,115.1 L370.0,117.0 L363.8,117.6 L357.5,118.9 L352.5,122.0 L350.6,124.8 L335.0,125.6 L322.5,126.0 L310.0,126.0 L303.8,126.9 L300.0,129.0 L296.2,131.9 L291.9,133.5 L287.5,135.6 L283.1,140.0 L278.8,143.8 L273.8,147.8 L272.2,149.0 L275.0,148.5 L280.0,144.4 L285.0,140.9 L290.6,137.5 L296.2,135.0 L301.2,133.5 L307.5,132.8 L313.8,133.1 L318.8,134.8 L319.8,137.2 L317.5,139.4 L312.5,140.0 L306.2,140.9 L305.0,141.5 L311.2,141.9 L314.4,143.8 L315.0,146.9 L317.5,149.4 L321.2,151.9 L322.5,153.8 L327.5,155.0 L333.8,154.8 L340.0,155.6 L343.1,151.2 L346.2,148.5 L347.5,151.2 L350.6,154.4 L346.2,156.9 L340.6,158.8 L335.0,161.2 L327.5,163.8 L320.0,166.5 L313.8,170.0 L310.0,171.5 L308.1,169.0 L309.4,165.6 L313.8,162.5 L318.8,159.0 L319.8,157.5 L315.0,158.1 L310.0,159.8 L303.8,161.2 L297.5,163.1 L291.9,164.8 L288.1,166.5 L284.4,168.1 L280.6,170.6 L277.5,173.1 L275.0,176.2 L273.1,180.6 L275.0,181.0 L278.5,182.5 L280.0,185.0 L277.0,186.0 L274.0,185.0 L270.0,186.0 L262.0,189.0 L254.0,191.0 L251.0,193.5 L249.5,197.0 L247.0,201.0 L244.5,204.0 L243.5,208.0 L242.0,213.0 L240.0,218.0 L239.0,222.0 L238.5,226.0 L237.5,229.5 L233.0,232.0 L227.4,234.8 L221.3,238.4 L216.4,242.1 L210.3,245.8 L205.4,250.6 L201.7,254.3 L199.9,258.0 L200.5,262.9 L201.7,267.7 L203.0,272.6 L205.4,277.5 L207.2,282.4 L209.1,287.3 L209.7,293.4 L208.5,298.3 L205.4,301.3 L201.7,300.7 L199.3,298.3 L196.9,293.4 L194.4,288.5 L192.0,282.4 L189.5,277.5 L188.3,273.8 L185.9,270.2 L182.2,268.3 L177.3,267.1 L172.4,266.5 L166.0,264.3 L154.0,264.3 L147.0,266.0 L145.0,268.0 L143.5,272.0 L141.5,271.0 L140.5,269.0 L136.8,266.2 L130.0,267.8 L119.5,268.5 L109.0,269.7 L104.5,271.2 L98.5,274.5 L92.5,279.0 L88.0,284.2 L86.5,289.5 L87.2,295.5 L87.7,300.0 L85.8,306.0 L85.8,313.5 L87.2,319.5 L88.0,326.0 L92.0,334.0 L96.0,340.0 L102.0,346.0 L107.0,348.0 L116.0,348.0 L126.0,347.0 L132.0,344.0 L135.0,338.0 L137.5,334.5 L140.5,330.0 L145.0,327.0 L151.0,326.2 L157.0,326.2 L160.8,327.8 L160.0,333.0 L158.0,336.0 L156.0,342.5 L153.0,347.0 L151.5,353.0 L149.2,359.0 L148.5,364.5 L159.0,365.0 L169.5,365.0 L180.0,364.0 L184.5,365.5 L185.8,377.5 L185.0,385.0 L184.2,392.5 L184.2,398.5 L186.5,403.8 L191.0,409.0 L195.5,412.8 L200.0,414.5 L201.6,413.8 L205.0,412.6 L209.5,411.5 L211.8,412.6 L214.0,413.8 L217.4,412.6 L223.0,411.5 L227.5,413.8 L229.8,417.1 L232.0,418.2 L236.5,413.8 L241.0,408.1 L243.2,404.8 L247.8,401.4 L250.0,399.5 L256.0,396.0 L262.0,394.0 L266.0,392.0 L270.0,394.0 L274.0,392.0 L278.0,392.0 L280.0,396.0 L284.0,398.0 L292.0,399.0 L300.0,400.0 L308.0,402.0 L314.0,404.0 L320.0,402.0 L328.0,402.0 L333.0,404.0 L337.5,407.5 L345.0,415.0 L352.5,420.0 L360.0,427.5 L367.5,433.8 L377.5,437.0 L387.5,438.8 L397.5,441.2 L405.0,445.0 L412.5,452.5 L417.5,460.0 L420.0,467.5 L418.8,473.0 L415.0,476.2 L412.5,482.5 L416.2,486.2 L412.5,491.2 L418.8,491.2 L425.0,488.0 L430.0,482.5 L437.5,485.0 L447.5,490.0 L457.5,493.8 L465.0,495.0 L470.0,495.8 L480.0,497.0 L490.0,498.2 L497.5,499.5 L505.0,504.5 L512.5,509.5 L520.0,512.0 L523.8,517.0 L525.0,522.0 L522.5,532.0 L520.0,539.5 L518.8,547.0 L518.8,560.0 L222.4,560.0 L222.4,547.0 L221.1,542.0 L217.0,535.2 L212.9,528.4 L208.8,523.0 L204.8,517.6 L202.1,512.1 L202.1,505.3 L204.8,501.3 L209.5,495.8 L207.5,493.1 L206.8,487.7 L207.5,482.3 L208.8,476.9 L210.9,472.8 L214.3,470.1 L217.0,466.0 L219.7,461.9 L222.4,457.9 L226.5,453.8 L229.5,449.0 L229.8,440.0 L228.6,436.2 L227.5,431.8 L226.4,427.2 L225.2,422.8 L223.0,420.5 L220.8,418.2 L216.2,414.9 L212.9,414.3 L209.5,414.9 L207.2,418.2 L207.2,422.8 L205.0,425.0 L202.8,422.8 L199.4,421.6 L196.0,420.5 L192.6,419.4 L189.5,420.0 L186.5,417.2 L182.0,413.5 L177.5,409.8 L173.8,406.8 L170.0,406.0 L169.2,401.5 L168.5,397.8 L164.8,394.0 L161.0,389.5 L157.2,385.0 L155.0,383.5 L147.5,382.8 L140.0,381.2 L130.0,377.0 L122.0,373.0 L114.0,370.0 L104.0,366.4 L96.0,365.0 L86.0,364.0 L78.0,362.0 L70.0,360.0 L60.0,358.0Z M355.0,143.2 L357.5,139.5 L360.0,137.0 L362.5,133.2 L365.0,129.5 L368.8,125.8 L371.2,122.0 L375.0,118.2 L378.8,115.8 L381.2,116.4 L380.0,119.5 L376.2,124.5 L373.8,128.2 L377.5,129.5 L382.5,130.1 L387.5,131.4 L393.8,132.0 L395.0,134.5 L392.5,137.0 L395.0,139.5 L397.5,142.0 L400.0,144.5 L398.8,148.2 L395.0,150.1 L392.5,148.2 L391.2,144.5 L388.1,143.2 L385.0,145.8 L381.2,148.2 L377.5,148.9 L376.2,147.0 L378.8,144.5 L375.0,143.2 L370.0,143.5 L362.5,143.5 L357.5,143.9Z M321.2,128.1 L327.5,128.8 L333.8,130.6 L337.5,132.5 L335.0,133.5 L328.8,132.2 L323.8,130.2Z M252.0,191.0 L258.0,189.0 L264.0,187.5 L266.0,188.5 L260.0,190.5 L254.0,192.5Z M176.0,325.0 L180.0,321.0 L186.0,318.0 L194.0,316.4 L202.0,317.0 L210.0,319.0 L218.0,321.0 L224.0,324.0 L232.0,329.0 L240.0,333.0 L248.0,336.0 L249.0,337.0 L240.0,338.0 L230.0,338.0 L226.0,337.0 L230.0,334.0 L224.0,332.0 L218.0,327.0 L210.0,324.0 L200.0,322.0 L192.0,322.0 L184.0,324.0 L179.0,326.0Z M220.0,348.0 L226.0,346.6 L232.0,347.6 L235.0,350.0 L230.0,352.4 L224.0,352.0 L221.0,350.4Z M254.0,339.0 L260.0,338.0 L268.0,337.6 L276.0,338.0 L280.0,340.0 L284.0,344.0 L290.0,347.0 L288.0,349.0 L282.0,348.0 L274.0,350.0 L270.0,353.0 L266.0,351.0 L260.0,349.0 L254.0,348.4 L251.0,348.0 L254.0,346.4 L258.0,346.0 L259.0,343.0 L256.0,341.0Z M300.0,348.0 L308.0,347.6 L310.0,349.0 L308.0,351.0 L300.0,351.0Z M217.0,288.5 L222.0,287.5 L228.0,289.5 L229.5,291.5 L227.0,292.0 L222.0,290.5 L217.5,290.8Z M229.0,287.0 L231.0,289.0 L232.0,293.0 L230.5,294.0 L229.5,290.0Z M222.0,301.5 L224.5,300.5 L226.5,304.0 L226.0,309.0 L223.5,308.0 L222.0,304.5Z M233.0,297.0 L235.0,299.0 L237.0,303.0 L236.0,304.0 L234.0,300.0Z M238.0,306.0 L240.0,309.0 L241.0,313.0 L239.5,312.0 L238.5,309.0Z M131.0,479.0 L134.0,477.0 L137.5,478.5 L138.0,482.0 L135.0,483.5 L132.0,482.0Z M700.4,88.0 L726.6,88.0 L729.0,96.9 L726.6,103.0 L726.6,109.1 L721.7,112.8 L714.4,114.6 L708.3,115.2 L702.2,115.8 L699.8,114.0 L701.6,111.5 L705.9,109.1 L702.2,107.9 L699.8,104.2 L702.2,100.5 L699.8,96.9 L701.0,93.2Z M746.2,88.0 L746.2,92.0 L749.8,96.9 L751.0,101.8 L748.6,104.2 L741.3,105.4 L738.8,107.9 L741.3,111.5 L737.6,114.6 L735.2,115.2 L738.8,116.4 L743.7,115.8 L751.0,115.2 L753.5,116.4 L748.6,118.9 L741.3,121.3 L736.4,123.7 L731.5,127.4 L736.4,126.2 L745.0,124.4 L753.5,123.1 L760.8,121.9 L768.2,121.3 L780.0,121.3 L780.0,97.0 L770.0,97.0 L764.0,93.0 L762.0,88.0Z M780.0,128.6 L768.2,128.6 L763.3,129.9 L759.6,128.6 L758.4,131.0 L756.0,134.7 L749.8,136.0 L741.3,136.0 L738.8,137.2 L738.8,139.6 L743.7,142.0 L751.0,144.5 L756.0,147.0 L757.2,149.4 L760.8,153.0 L763.3,155.5 L764.5,159.2 L763.3,165.3 L760.8,171.4 L758.4,172.6 L751.0,172.6 L738.8,172.0 L726.6,171.4 L718.0,171.4 L712.0,173.8 L708.3,177.5 L707.1,182.0 L708.0,188.0 L707.0,197.0 L706.0,206.0 L708.0,215.0 L713.0,216.5 L718.0,218.4 L724.0,221.0 L727.5,224.5 L729.5,223.0 L736.0,221.5 L743.0,219.5 L750.0,217.5 L756.5,215.0 L762.0,211.0 L767.8,208.0 L780.0,204.0Z M780.0,225.5 L770.0,226.0 L761.0,228.5 L754.0,230.0 L747.5,230.8 L740.0,230.0 L734.0,229.6 L729.5,226.5 L725.0,230.8 L718.0,237.5 L711.5,244.2 L704.8,253.2 L701.4,264.5 L700.0,269.0 L693.5,275.8 L684.5,282.5 L677.8,289.2 L671.0,296.0 L668.0,300.0 L661.6,308.5 L657.4,317.0 L653.0,325.5 L652.0,334.0 L655.2,342.5 L656.3,351.0 L653.0,361.6 L650.0,372.2 L651.0,380.8 L653.0,389.2 L659.5,393.5 L666.0,397.8 L672.2,406.2 L678.6,416.9 L685.0,425.4 L689.2,429.0 L699.9,437.6 L710.5,444.0 L719.0,446.1 L727.5,444.0 L738.1,441.9 L748.8,440.8 L759.4,439.8 L770.0,437.6 L780.0,437.0Z" fill="#d3d3d3" stroke="#222" stroke-width="0.8" stroke-linejoin="round"/><path d="M140,92V547M210,92V547M280,92V547M350,92V547M420,92V547M490,92V547M560,92V547M630,92V547M700,92V547M70,127.5H770M70,197.5H770M70,267.5H770M70,337.5H770M70,407.5H770M70,477.5H770" stroke="#6a6a6a" stroke-width="1" fill="none" style="mix-blend-mode:luminosity"/><path d="M76.2,98.2 L81.2,96.5 L86.2,99.5 L88.8,105.8 L91.2,112.0 L95.0,115.8 L96.2,122.0 L93.8,124.5 L91.2,122.0 L88.8,115.8 L83.8,110.8 L78.8,105.8 L75.5,102.0Z" fill="#0ccaf6" stroke="#222" stroke-width="0.8"/><path d="M71.2,115.8 L75.0,114.5 L80.0,118.2 L83.8,124.5 L81.2,125.8 L77.5,122.0 L72.5,119.5Z" fill="#0ccaf6" stroke="#222" stroke-width="0.8"/><path d="M103.8,129.5 L108.8,129.0 L111.2,132.0 L107.5,135.0 L103.8,134.0Z" fill="#0ccaf6" stroke="#222" stroke-width="0.8"/><path d="M116.2,135.8 L120.0,136.0 L123.0,138.0 L120.0,138.5 L116.5,137.0Z" fill="#0ccaf6" stroke="#222" stroke-width="0.8"/><path d="M125.0,150.0 L132.5,146.2 L140.0,142.5 L147.5,138.8 L152.5,135.0 L157.5,135.6 L163.8,136.9 L167.5,138.8 L172.5,141.2 L175.6,143.8 L177.5,147.5 L178.8,151.9 L175.0,151.2 L170.0,150.0 L163.8,149.4 L157.5,150.0 L152.5,148.8 L150.0,150.0 L145.0,148.1 L138.8,148.8 L132.5,150.0 L127.5,150.6Z" fill="#0ccaf6" stroke="#222" stroke-width="0.8"/><path d="M153.8,165.0 L157.5,160.0 L161.2,157.5 L167.5,155.6 L173.8,155.0 L177.5,156.2 L172.5,158.8 L168.8,162.5 L167.5,167.5 L166.2,175.0 L165.0,181.2 L161.2,185.0 L157.5,185.0 L155.6,180.0 L155.0,172.5Z" fill="#0ccaf6" stroke="#222" stroke-width="0.8"/><path d="M177.5,156.2 L182.5,154.4 L190.0,155.0 L197.5,155.6 L205.0,158.8 L210.0,162.5 L207.5,165.0 L202.5,162.5 L200.0,165.0 L197.5,170.0 L195.0,175.0 L192.5,173.8 L190.0,170.0 L186.2,171.2 L182.5,170.0 L185.0,166.2 L187.5,162.5 L185.0,158.8 L181.2,157.5Z" fill="#0ccaf6" stroke="#222" stroke-width="0.8"/><path d="M186.2,185.0 L190.0,181.2 L195.0,178.8 L202.5,177.5 L210.0,176.2 L217.5,177.5 L212.5,180.0 L205.0,182.5 L197.5,185.0 L191.2,186.9Z" fill="#0ccaf6" stroke="#222" stroke-width="0.8"/><path d="M212.5,172.5 L217.1,172.0 L221.2,170.4 L230.7,168.3 L238.8,166.3 L237.5,169.0 L233.4,173.7 L225.3,175.1 L217.1,175.1Z" fill="#0ccaf6" stroke="#222" stroke-width="0.8"/><path d="M193.8,89.5 L220.0,89.5 L220.0,95.8 L220.0,104.5 L223.8,110.8 L220.0,115.8 L215.0,117.0 L210.0,119.5 L205.0,118.2 L200.0,114.5 L195.0,109.5 L193.8,102.0Z" fill="#0ccaf6" stroke="#222" stroke-width="0.8"/><path d="M342.5,100.8 L352.5,99.5 L362.5,97.6 L366.2,97.0 L365.0,98.2 L356.2,100.8 L348.8,102.6 L343.8,102.0Z" fill="#0ccaf6" stroke="#222" stroke-width="0.8"/><path d="M237.0,203.0 L235.5,207.0 L233.5,211.0 L233.0,216.0 L234.5,221.0 L236.0,226.0 L237.5,228.0 L238.5,224.0 L237.0,219.0 L236.6,214.0 L237.6,209.0 L238.5,205.0Z" fill="#44d8f8" stroke="#222" stroke-width="0.8"/><path d="M243.0,203.5 L241.0,206.0 L241.5,209.0 L243.5,207.0Z" fill="#44d8f8" stroke="#222" stroke-width="0.8"/><path d="M232.5,231.0 L236.0,228.5 L237.5,232.0 L234.0,234.5 L231.0,234.0Z" fill="#90ffa0" stroke="#222" stroke-width="0.8"/><path d="M169.5,392.3 L172.5,393.2 L175.2,396.2 L175.8,399.0 L173.0,399.2 L170.5,397.5 L169.3,394.7Z" fill="#ffe000" stroke="#222" stroke-width="0.8"/><path d="M267.0,404.0 L269.0,402.0 L272.0,405.0 L272.0,412.0 L270.0,414.0 L267.0,412.0 L266.0,408.0Z" fill="#ffb000" stroke="#222" stroke-width="0.8"/><path d="M760.0,413.0 L764.0,412.0 L768.0,418.0 L770.0,425.0 L767.0,430.0 L763.0,424.0Z" fill="#ffa000" stroke="#222" stroke-width="0.8"/><text x="255.5" y="201.3" transform="rotate(100 255.5 195)" font-size="18" text-anchor="middle" fill="#000">5</text><text x="314.5" y="193.8" font-size="18" text-anchor="middle" fill="#000">8</text><text x="355.5" y="191.8" font-size="18" text-anchor="middle" fill="#000">10</text><text x="399" y="191.8" transform="rotate(3 399 185.5)" font-size="18" text-anchor="middle" fill="#000">12</text><text x="454.5" y="130.8" transform="rotate(90 454.5 124.5)" font-size="18" text-anchor="middle" fill="#000">8</text><text x="456.5" y="173.0" transform="rotate(-80 456.5 166.7)" font-size="18" text-anchor="middle" fill="#000">6</text><text x="498.4" y="143.70000000000002" font-size="18" text-anchor="middle" fill="#000">10</text><text x="542.2" y="165.05" transform="rotate(-12 542.2 158.75)" font-size="18" text-anchor="middle" fill="#000">12</text><text x="741.6" y="165.3" transform="rotate(-10 741.6 159)" font-size="18" text-anchor="middle" fill="#000">14</text><text x="496" y="191.3" transform="rotate(-90 496 185)" font-size="18" text-anchor="middle" fill="#000">16</text><text x="543" y="209.8" transform="rotate(20 543 203.5)" font-size="18" text-anchor="middle" fill="#000">16</text><text x="446.25" y="212.20000000000002" font-size="18" text-anchor="middle" fill="#000">18</text><text x="364.7" y="233.20000000000002" transform="rotate(10 364.7 226.9)" font-size="18" text-anchor="middle" fill="#000">20</text><text x="428.75" y="254.10000000000002" transform="rotate(15 428.75 247.8)" font-size="18" text-anchor="middle" fill="#000">20</text><text x="648" y="320.7" transform="rotate(-60 648 314.4)" font-size="18" text-anchor="middle" fill="#000">20</text><text x="302.6" y="264.1" transform="rotate(-20 302.6 257.8)" font-size="18" text-anchor="middle" fill="#000">22</text><text x="591.25" y="331.0" transform="rotate(30 591.25 324.7)" font-size="18" text-anchor="middle" fill="#000">22</text><text x="241" y="249.70000000000002" transform="rotate(-55 241 243.4)" font-size="18" text-anchor="middle" fill="#000">24</text><text x="352" y="291.3" transform="rotate(-60 352 285)" font-size="18" text-anchor="middle" fill="#000">24</text><text x="597.7" y="379.3" font-size="18" text-anchor="middle" fill="#000">24</text><text x="231.5" y="321.8" font-size="18" text-anchor="middle" fill="#000">26</text><text x="353" y="344.3" transform="rotate(60 353 338)" font-size="18" text-anchor="middle" fill="#000">26</text><text x="650" y="420.05" transform="rotate(80 650 413.75)" font-size="18" text-anchor="middle" fill="#000">26</text><text x="210.6" y="405.8" transform="rotate(-90 210.6 399.5)" font-size="18" text-anchor="middle" fill="#000">28</text><text x="421.5" y="453.3" transform="rotate(39 421.5 447)" font-size="18" text-anchor="middle" fill="#000">28</text><text x="713.75" y="457.55" transform="rotate(20 713.75 451.25)" font-size="18" text-anchor="middle" fill="#000">28</text><text x="200.7" y="498.1" font-size="18" text-anchor="middle" fill="#000">2</text></g><path d="M70,77V92M70,547V562M140,77V92M140,547V562M210,77V92M210,547V562M280,77V92M280,547V562M350,77V92M350,547V562M420,77V92M420,547V562M490,77V92M490,547V562M560,77V92M560,547V562M630,77V92M630,547V562M700,77V92M700,547V562M770,77V92M770,547V562M55,127.5H70M770,127.5H785M55,197.5H70M770,197.5H785M55,267.5H70M770,267.5H785M55,337.5H70M770,337.5H785M55,407.5H70M770,407.5H785M55,477.5H70M770,477.5H785M55,547.5H70M770,547.5H785" stroke="#000" stroke-width="1" fill="none"/><rect x="70" y="92.5" width="700" height="455" fill="none" stroke="#000" stroke-width="1"/></svg>
<svg class="map" width="800" height="737" viewBox="0 0 800 737"><rect x="112.00" y="627" width="19.55" height="40" fill="#0ccaf6"/><rect x="131.25" y="627" width="19.55" height="40" fill="#18f2fc"/><rect x="150.50" y="627" width="19.55" height="40" fill="#30eeff"/><rect x="169.75" y="627" width="19.55" height="40" fill="#40f0ff"/><rect x="189.00" y="627" width="19.55" height="40" fill="#60f5ff"/><rect x="208.25" y="627" width="19.55" height="40" fill="#90ffff"/><rect x="227.50" y="627" width="19.55" height="40" fill="#90ffd8"/><rect x="246.75" y="627" width="19.55" height="40" fill="#70f8a0"/><rect x="266.00" y="627" width="19.55" height="40" fill="#50ff80"/><rect x="285.25" y="627" width="19.55" height="40" fill="#20ff40"/><rect x="304.50" y="627" width="19.55" height="40" fill="#00ff10"/><rect x="323.75" y="627" width="19.55" height="40" fill="#30ff10"/><rect x="343.00" y="627" width="19.55" height="40" fill="#60ff10"/><rect x="362.25" y="627" width="19.55" height="40" fill="#90ff10"/><rect x="381.50" y="627" width="19.55" height="40" fill="#c0ff00"/><rect x="400.75" y="627" width="19.55" height="40" fill="#d8ff00"/><rect x="420.00" y="627" width="19.55" height="40" fill="#e0ff00"/><rect x="439.25" y="627" width="19.55" height="40" fill="#e8ff00"/><rect x="458.50" y="627" width="19.55" height="40" fill="#f0ff00"/><rect x="477.75" y="627" width="19.55" height="40" fill="#f5ff00"/><rect x="497.00" y="627" width="19.55" height="40" fill="#ffff00"/><rect x="516.25" y="627" width="19.55" height="40" fill="#ffe800"/><rect x="535.50" y="627" width="19.55" height="40" fill="#ffd800"/><rect x="554.75" y="627" width="19.55" height="40" fill="#ffc000"/><rect x="574.00" y="627" width="19.55" height="40" fill="#ffb000"/><rect x="593.25" y="627" width="19.55" height="40" fill="#ffa000"/><rect x="612.50" y="627" width="19.55" height="40" fill="#ff8800"/><rect x="631.75" y="627" width="19.55" height="40" fill="#ff7800"/><rect x="651.00" y="627" width="19.55" height="40" fill="#ff6400"/><rect x="670.25" y="627" width="19.55" height="40" fill="#ff5000"/><rect x="689.50" y="627" width="19.55" height="40" fill="#ff3800"/><rect x="708.75" y="627" width="19.55" height="40" fill="#ff2000"/><path d="M131.25,627V667" stroke="#222" stroke-width="0.8"/><path d="M150.50,627V667" stroke="#222" stroke-width="0.8"/><path d="M169.75,627V667" stroke="#222" stroke-width="0.8"/><path d="M189.00,627V667" stroke="#222" stroke-width="0.8"/><path d="M208.25,627V667" stroke="#222" stroke-width="0.8"/><path d="M227.50,627V667" stroke="#222" stroke-width="0.8"/><path d="M246.75,627V667" stroke="#222" stroke-width="0.8"/><path d="M266.00,627V667" stroke="#222" stroke-width="0.8"/><path d="M285.25,627V667" stroke="#222" stroke-width="0.8"/><path d="M304.50,627V667" stroke="#222" stroke-width="0.8"/><path d="M323.75,627V667" stroke="#222" stroke-width="0.8"/><path d="M343.00,627V667" stroke="#222" stroke-width="0.8"/><path d="M362.25,627V667" stroke="#222" stroke-width="0.8"/><path d="M381.50,627V667" stroke="#222" stroke-width="0.8"/><path d="M400.75,627V667" stroke="#222" stroke-width="0.8"/><path d="M420.00,627V667" stroke="#222" stroke-width="0.8"/><path d="M439.25,627V667" stroke="#222" stroke-width="0.8"/><path d="M458.50,627V667" stroke="#222" stroke-width="0.8"/><path d="M477.75,627V667" stroke="#222" stroke-width="0.8"/><path d="M497.00,627V667" stroke="#222" stroke-width="0.8"/><path d="M516.25,627V667" stroke="#222" stroke-width="0.8"/><path d="M535.50,627V667" stroke="#222" stroke-width="0.8"/><path d="M554.75,627V667" stroke="#222" stroke-width="0.8"/><path d="M574.00,627V667" stroke="#222" stroke-width="0.8"/><path d="M593.25,627V667" stroke="#222" stroke-width="0.8"/><path d="M612.50,627V667" stroke="#222" stroke-width="0.8"/><path d="M631.75,627V667" stroke="#222" stroke-width="0.8"/><path d="M651.00,627V667" stroke="#222" stroke-width="0.8"/><path d="M670.25,627V667" stroke="#222" stroke-width="0.8"/><path d="M689.50,627V667" stroke="#222" stroke-width="0.8"/><path d="M708.75,627V667" stroke="#222" stroke-width="0.8"/><rect x="112" y="627.5" width="616.00" height="40" fill="none" stroke="#222" stroke-width="0.8"/></svg>
<svg style="position:absolute;left:0;top:0" width="82" height="82" viewBox="0 0 82 82">
<defs>
<clipPath id="nc"><circle cx="40.4" cy="40.4" r="25.2"/></clipPath>
<path id="nring1" d="M13.3,53 A29.2,29.2 0 1 1 67.5,53"/>
<path id="nring2" d="M15.8,57 A29.8,29.8 0 0 0 65,57"/>
</defs>
<circle cx="40.4" cy="40.4" r="25.6" fill="#e8f2fb"/>
<g clip-path="url(#nc)">
<rect x="14" y="14" width="54" height="54" fill="#1e98ee"/>
<path d="M10,10 H72 V26 L66,24.5 L61.5,26.5 L57,30 L52,35.5 L47,40.5 L42,44 L38,42.5 L32,37.5 L26,32.5 L20,29.8 L10,29 Z" fill="#17166b"/>
<path d="M10,29 L20,29.8 L26,32.5 L32,37.5 L38,42.5 L42,44 L47,40.5 L52,35.5 L57,30 L61.5,26.5 L66,24.5 L72,26 L72,29 L66,28 L61,31 L56,36 L51,41.5 L47,45 L41,47 L33.5,47.8 L31.5,46.5 L37.5,45.2 L31,40.6 L25,36.3 L19,33.6 L10,33 Z" fill="#ffffff"/>
</g>
<circle cx="40.4" cy="40.4" r="25.2" fill="none" stroke="#b8d4f0" stroke-width="0.6"/>
<text x="39.8" y="30.8" font-family="Liberation Sans" font-weight="bold" font-size="8.4" fill="#fff" text-anchor="middle" textLength="20" lengthAdjust="spacingAndGlyphs">NOAA</text>
<text font-family="Liberation Sans" font-weight="bold" font-size="4.2" fill="#22306e" opacity="0.9"><textPath href="#nring1" startOffset="50%" text-anchor="middle" textLength="114" lengthAdjust="spacingAndGlyphs">NATIONAL OCEANIC AND ATMOSPHERIC ADMINISTRATION</textPath></text>
<text font-family="Liberation Sans" font-weight="bold" font-size="4.2" fill="#22306e" opacity="0.9"><textPath href="#nring2" startOffset="50%" text-anchor="middle" textLength="57" lengthAdjust="spacingAndGlyphs">U.S. DEPARTMENT OF COMMERCE</textPath></text>
<circle cx="63.6" cy="15.8" r="1.1" fill="#9aa"/>
</svg>

<svg style="position:absolute;left:720px;top:0" width="80" height="80" viewBox="720 0 80 80">
<defs>
<clipPath id="wc"><circle cx="760.8" cy="39.9" r="18.6"/></clipPath>
<path id="wring" d="M747.2,61.6 A25.6,25.6 0 1 1 774.4,61.6"/>
</defs>
<g clip-path="url(#wc)">
<rect x="740" y="20" width="42" height="42" fill="#3aa8e2"/>
<path d="M740,20 H782 V30 H740Z" fill="#5cc2ef"/>
<path d="M740,37 L743,33.5 L747,33 L750,30.5 L754,31 L757,28.5 L761,29.2 L765,27.8 L769,29.5 L773,30 L776,32.5 L780,33.5 L782,36 L782,47.5 L776,48.5 L771,47.2 L766,48.8 L760,48 L754,49.5 L748,47.8 L743,48.6 L740,47 Z" fill="#1a1aa6"/>
<path d="M740,47 L743,48.6 L748,47.8 L754,49.5 L760,48 L766,48.8 L771,47.2 L776,48.5 L782,47.5 L782,51.5 L776,52.8 L770,51.8 L764,53.2 L758,52 L752,53.5 L746,52.2 L740,53.2Z" fill="#f4f8ff"/>
</g>
<path d="M745.5,23.5 L753.5,30 L751.5,31.2 L761.5,38.5 L759.8,39.6 L775,54 L756.8,41.6 L758.6,40.6 L748.8,33.6 L750.6,32.6 Z" fill="#ffffff"/>
<text font-family="Liberation Sans" font-weight="bold" font-size="7.6" fill="#e8302a" stroke="#e8302a" stroke-width="0.3"><textPath href="#wring" startOffset="50%" text-anchor="middle" textLength="118" lengthAdjust="spacingAndGlyphs">NATIONAL WEATHER SERVICE</textPath></text>
<circle cx="752.3" cy="64.9" r="1.1" fill="#2a2a9a"/>
<circle cx="760.1" cy="65.7" r="1.3" fill="#e8302a"/>
<circle cx="767.5" cy="64.9" r="1.1" fill="#2a2a9a"/>
</svg>

<div class="title">NWS National Hurricane Center (NCEP/NOAA)</div>
<div class="yl" style="top:118.5px">50N</div><div class="yl" style="top:188.5px">40N</div><div class="yl" style="top:258.5px">30N</div><div class="yl" style="top:328.5px">20N</div><div class="yl" style="top:398.5px">10N</div><div class="yl" style="top:468.5px">0</div><div class="yl" style="top:538.5px">10S</div><div class="xl" style="left:30px">100W</div><div class="xl" style="left:100px">90W</div><div class="xl" style="left:170px">80W</div><div class="xl" style="left:240px">70W</div><div class="xl" style="left:310px">60W</div><div class="xl" style="left:380px">50W</div><div class="xl" style="left:450px">40W</div><div class="xl" style="left:520px">30W</div><div class="xl" style="left:590px">20W</div><div class="xl" style="left:660px">10W</div><div class="xl" style="left:730px">0</div>
<div class="sub">Ocean Analysis - Reynolds Daily Sea Surface Temperature (C) - valid: 2026 - 04 - 08</div>
<div class="cl" style="left:101.25px">5</div><div class="cl" style="left:197.50px">10</div><div class="cl" style="left:293.75px">15</div><div class="cl" style="left:390.00px">20</div><div class="cl" style="left:486.25px">25</div><div class="cl" style="left:582.50px">30</div><div class="cl" style="left:678.75px">35</div>
<div class="src">Data Source: National Climatic Data Center (NCDC/NOAA)</div>
</body></html>
